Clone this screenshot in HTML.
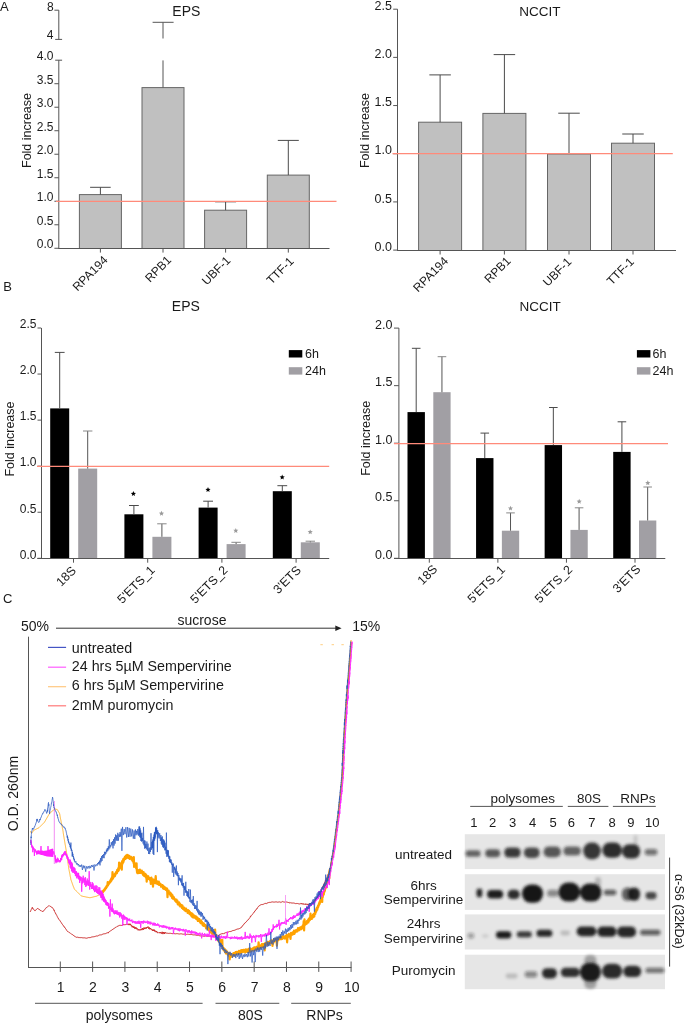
<!DOCTYPE html>
<html><head><meta charset="utf-8"><style>
html,body{margin:0;padding:0;background:#fff;width:685px;height:1023px;overflow:hidden}
svg{display:block;will-change:transform}
text{font-family:"Liberation Sans", sans-serif}
</style></head><body>
<svg width="685" height="1023" viewBox="0 0 685 1023" shape-rendering="auto">
<text x="0.00" y="11.20" font-size="13" text-anchor="start" fill="#1a1a1a" >A</text>
<text x="172.30" y="16.00" font-size="14" text-anchor="start" fill="#1a1a1a" >EPS</text>
<line x1="58.80" y1="10.20" x2="58.80" y2="39.40" stroke="#555555" stroke-width="1" />
<line x1="54.40" y1="10.20" x2="58.80" y2="10.20" stroke="#555555" stroke-width="1" />
<line x1="55.20" y1="39.40" x2="62.10" y2="39.40" stroke="#555555" stroke-width="1" />
<text x="53.60" y="10.90" font-size="12" text-anchor="end" fill="#1a1a1a" >8</text>
<text x="53.40" y="39.20" font-size="12" text-anchor="end" fill="#1a1a1a" >4</text>
<line x1="58.80" y1="60.20" x2="58.80" y2="248.50" stroke="#555555" stroke-width="1" />
<line x1="55.20" y1="60.20" x2="62.10" y2="60.20" stroke="#555555" stroke-width="1" />
<text x="53.40" y="60.40" font-size="12" text-anchor="end" fill="#1a1a1a" >4.0</text>
<line x1="54.40" y1="83.71" x2="58.80" y2="83.71" stroke="#555555" stroke-width="1" />
<text x="53.40" y="83.91" font-size="12" text-anchor="end" fill="#1a1a1a" >3.5</text>
<line x1="54.40" y1="107.22" x2="58.80" y2="107.22" stroke="#555555" stroke-width="1" />
<text x="53.40" y="107.42" font-size="12" text-anchor="end" fill="#1a1a1a" >3.0</text>
<line x1="54.40" y1="130.73" x2="58.80" y2="130.73" stroke="#555555" stroke-width="1" />
<text x="53.40" y="130.93" font-size="12" text-anchor="end" fill="#1a1a1a" >2.5</text>
<line x1="54.40" y1="154.24" x2="58.80" y2="154.24" stroke="#555555" stroke-width="1" />
<text x="53.40" y="154.44" font-size="12" text-anchor="end" fill="#1a1a1a" >2.0</text>
<line x1="54.40" y1="177.75" x2="58.80" y2="177.75" stroke="#555555" stroke-width="1" />
<text x="53.40" y="177.95" font-size="12" text-anchor="end" fill="#1a1a1a" >1.5</text>
<line x1="54.40" y1="201.26" x2="58.80" y2="201.26" stroke="#555555" stroke-width="1" />
<text x="53.40" y="201.46" font-size="12" text-anchor="end" fill="#1a1a1a" >1.0</text>
<line x1="54.40" y1="224.77" x2="58.80" y2="224.77" stroke="#555555" stroke-width="1" />
<text x="53.40" y="224.97" font-size="12" text-anchor="end" fill="#1a1a1a" >0.5</text>
<line x1="54.40" y1="248.28" x2="58.80" y2="248.28" stroke="#555555" stroke-width="1" />
<text x="53.40" y="248.48" font-size="12" text-anchor="end" fill="#1a1a1a" >0.0</text>
<rect x="79.40" y="194.60" width="42.00" height="53.90" fill="#c0c0c0" stroke="#666666" stroke-width="1"/>
<rect x="142.00" y="87.60" width="42.00" height="160.90" fill="#c0c0c0" stroke="#666666" stroke-width="1"/>
<rect x="204.60" y="210.20" width="42.00" height="38.30" fill="#c0c0c0" stroke="#666666" stroke-width="1"/>
<rect x="267.30" y="175.10" width="42.00" height="73.40" fill="#c0c0c0" stroke="#666666" stroke-width="1"/>
<line x1="100.40" y1="187.30" x2="100.40" y2="194.60" stroke="#4a4a4a" stroke-width="1" />
<line x1="90.10" y1="187.30" x2="110.70" y2="187.30" stroke="#4a4a4a" stroke-width="1" />
<line x1="163.00" y1="22.30" x2="163.00" y2="38.50" stroke="#555555" stroke-width="1" />
<line x1="152.60" y1="22.30" x2="173.60" y2="22.30" stroke="#555555" stroke-width="1" />
<line x1="163.00" y1="60.40" x2="163.00" y2="87.60" stroke="#555555" stroke-width="1" />
<line x1="225.60" y1="201.80" x2="225.60" y2="210.20" stroke="#4a4a4a" stroke-width="1" />
<line x1="215.10" y1="201.80" x2="236.10" y2="201.80" stroke="#4a4a4a" stroke-width="1" />
<line x1="288.30" y1="140.40" x2="288.30" y2="175.10" stroke="#4a4a4a" stroke-width="1" />
<line x1="277.80" y1="140.40" x2="298.80" y2="140.40" stroke="#4a4a4a" stroke-width="1" />
<line x1="58.30" y1="248.50" x2="329.50" y2="248.50" stroke="#555555" stroke-width="1" />
<line x1="100.40" y1="248.50" x2="100.40" y2="252.60" stroke="#555555" stroke-width="1" />
<line x1="163.00" y1="248.50" x2="163.00" y2="252.60" stroke="#555555" stroke-width="1" />
<line x1="225.60" y1="248.50" x2="225.60" y2="252.60" stroke="#555555" stroke-width="1" />
<line x1="288.30" y1="248.50" x2="288.30" y2="252.60" stroke="#555555" stroke-width="1" />
<line x1="56.00" y1="201.30" x2="336.50" y2="201.30" stroke="#ff8a7a" stroke-width="1.2" />
<text x="108.40" y="260.80" font-size="12" text-anchor="end" fill="#1a1a1a" transform="rotate(-45 108.40 260.80)" >RPA194</text>
<text x="172.10" y="260.80" font-size="12" text-anchor="end" fill="#1a1a1a" transform="rotate(-45 172.10 260.80)" >RPB1</text>
<text x="231.20" y="261.20" font-size="12" text-anchor="end" fill="#1a1a1a" transform="rotate(-45 231.20 261.20)" >UBF-1</text>
<text x="294.60" y="262.00" font-size="12" text-anchor="end" fill="#1a1a1a" transform="rotate(-45 294.60 262.00)" >TTF-1</text>
<text x="30.90" y="130.50" font-size="12.5" text-anchor="middle" fill="#1a1a1a" transform="rotate(-90 30.90 130.50)" >Fold increase</text>
<text x="519.30" y="15.90" font-size="13.5" text-anchor="start" fill="#1a1a1a" >NCCIT</text>
<line x1="397.50" y1="9.20" x2="397.50" y2="250.50" stroke="#555555" stroke-width="1" />
<line x1="393.20" y1="9.20" x2="397.50" y2="9.20" stroke="#555555" stroke-width="1" />
<text x="392.00" y="9.80" font-size="12.5" text-anchor="end" fill="#1a1a1a" >2.5</text>
<line x1="393.20" y1="57.38" x2="397.50" y2="57.38" stroke="#555555" stroke-width="1" />
<text x="392.00" y="57.98" font-size="12.5" text-anchor="end" fill="#1a1a1a" >2.0</text>
<line x1="393.20" y1="105.56" x2="397.50" y2="105.56" stroke="#555555" stroke-width="1" />
<text x="392.00" y="106.16" font-size="12.5" text-anchor="end" fill="#1a1a1a" >1.5</text>
<line x1="393.20" y1="153.74" x2="397.50" y2="153.74" stroke="#555555" stroke-width="1" />
<text x="392.00" y="154.34" font-size="12.5" text-anchor="end" fill="#1a1a1a" >1.0</text>
<line x1="393.20" y1="201.92" x2="397.50" y2="201.92" stroke="#555555" stroke-width="1" />
<text x="392.00" y="202.52" font-size="12.5" text-anchor="end" fill="#1a1a1a" >0.5</text>
<line x1="393.20" y1="250.10" x2="397.50" y2="250.10" stroke="#555555" stroke-width="1" />
<text x="392.00" y="250.70" font-size="12.5" text-anchor="end" fill="#1a1a1a" >0.0</text>
<rect x="418.60" y="122.20" width="43.00" height="128.30" fill="#c0c0c0" stroke="#666666" stroke-width="1"/>
<rect x="482.90" y="113.40" width="43.00" height="137.10" fill="#c0c0c0" stroke="#666666" stroke-width="1"/>
<rect x="547.50" y="154.00" width="43.00" height="96.50" fill="#c0c0c0" stroke="#666666" stroke-width="1"/>
<rect x="611.50" y="143.20" width="43.00" height="107.30" fill="#c0c0c0" stroke="#666666" stroke-width="1"/>
<line x1="440.10" y1="74.90" x2="440.10" y2="122.20" stroke="#4a4a4a" stroke-width="1" />
<line x1="429.35" y1="74.90" x2="450.85" y2="74.90" stroke="#4a4a4a" stroke-width="1" />
<line x1="504.40" y1="54.60" x2="504.40" y2="113.40" stroke="#4a4a4a" stroke-width="1" />
<line x1="493.65" y1="54.60" x2="515.15" y2="54.60" stroke="#4a4a4a" stroke-width="1" />
<line x1="569.00" y1="113.20" x2="569.00" y2="154.00" stroke="#4a4a4a" stroke-width="1" />
<line x1="558.25" y1="113.20" x2="579.75" y2="113.20" stroke="#4a4a4a" stroke-width="1" />
<line x1="633.00" y1="134.00" x2="633.00" y2="143.20" stroke="#4a4a4a" stroke-width="1" />
<line x1="622.25" y1="134.00" x2="643.75" y2="134.00" stroke="#4a4a4a" stroke-width="1" />
<line x1="397.00" y1="250.50" x2="676.00" y2="250.50" stroke="#555555" stroke-width="1" />
<line x1="440.10" y1="250.50" x2="440.10" y2="254.50" stroke="#555555" stroke-width="1" />
<line x1="504.40" y1="250.50" x2="504.40" y2="254.50" stroke="#555555" stroke-width="1" />
<line x1="569.00" y1="250.50" x2="569.00" y2="254.50" stroke="#555555" stroke-width="1" />
<line x1="633.00" y1="250.50" x2="633.00" y2="254.50" stroke="#555555" stroke-width="1" />
<line x1="392.50" y1="153.60" x2="672.80" y2="153.60" stroke="#ff8a7a" stroke-width="1.2" />
<text x="449.00" y="261.70" font-size="12" text-anchor="end" fill="#1a1a1a" transform="rotate(-45 449.00 261.70)" >RPA194</text>
<text x="511.50" y="261.70" font-size="12" text-anchor="end" fill="#1a1a1a" transform="rotate(-45 511.50 261.70)" >RPB1</text>
<text x="572.30" y="262.60" font-size="12" text-anchor="end" fill="#1a1a1a" transform="rotate(-45 572.30 262.60)" >UBF-1</text>
<text x="634.80" y="262.60" font-size="12" text-anchor="end" fill="#1a1a1a" transform="rotate(-45 634.80 262.60)" >TTF-1</text>
<text x="369.40" y="130.50" font-size="12.5" text-anchor="middle" fill="#1a1a1a" transform="rotate(-90 369.40 130.50)" >Fold increase</text>
<text x="3.20" y="291.30" font-size="13" text-anchor="start" fill="#1a1a1a" >B</text>
<text x="171.80" y="311.00" font-size="14" text-anchor="start" fill="#1a1a1a" >EPS</text>
<line x1="41.50" y1="328.00" x2="41.50" y2="558.50" stroke="#555555" stroke-width="1" />
<line x1="37.50" y1="328.00" x2="41.20" y2="328.00" stroke="#555555" stroke-width="1" />
<text x="36.40" y="328.30" font-size="12" text-anchor="end" fill="#1a1a1a" >2.5</text>
<line x1="37.50" y1="374.06" x2="41.20" y2="374.06" stroke="#555555" stroke-width="1" />
<text x="36.40" y="374.36" font-size="12" text-anchor="end" fill="#1a1a1a" >2.0</text>
<line x1="37.50" y1="420.12" x2="41.20" y2="420.12" stroke="#555555" stroke-width="1" />
<text x="36.40" y="420.42" font-size="12" text-anchor="end" fill="#1a1a1a" >1.5</text>
<line x1="37.50" y1="466.18" x2="41.20" y2="466.18" stroke="#555555" stroke-width="1" />
<text x="36.40" y="466.48" font-size="12" text-anchor="end" fill="#1a1a1a" >1.0</text>
<line x1="37.50" y1="512.24" x2="41.20" y2="512.24" stroke="#555555" stroke-width="1" />
<text x="36.40" y="512.54" font-size="12" text-anchor="end" fill="#1a1a1a" >0.5</text>
<line x1="37.50" y1="558.30" x2="41.20" y2="558.30" stroke="#555555" stroke-width="1" />
<text x="36.40" y="558.60" font-size="12" text-anchor="end" fill="#1a1a1a" >0.0</text>
<rect x="50.20" y="408.40" width="19.00" height="150.10" fill="#000000" stroke="none" stroke-width="1"/>
<rect x="78.20" y="468.60" width="19.00" height="89.90" fill="#a19fa4" stroke="none" stroke-width="1"/>
<rect x="124.40" y="514.30" width="19.00" height="44.20" fill="#000000" stroke="none" stroke-width="1"/>
<rect x="152.40" y="536.80" width="19.00" height="21.70" fill="#a19fa4" stroke="none" stroke-width="1"/>
<rect x="198.60" y="507.60" width="19.00" height="50.90" fill="#000000" stroke="none" stroke-width="1"/>
<rect x="226.60" y="544.10" width="19.00" height="14.40" fill="#a19fa4" stroke="none" stroke-width="1"/>
<rect x="272.80" y="491.20" width="19.00" height="67.30" fill="#000000" stroke="none" stroke-width="1"/>
<rect x="300.80" y="542.30" width="19.00" height="16.20" fill="#a19fa4" stroke="none" stroke-width="1"/>
<line x1="59.70" y1="352.40" x2="59.70" y2="408.40" stroke="#4a4a4a" stroke-width="1" />
<line x1="54.80" y1="352.40" x2="64.60" y2="352.40" stroke="#4a4a4a" stroke-width="1" />
<line x1="87.70" y1="431.00" x2="87.70" y2="468.60" stroke="#555" stroke-width="1" />
<line x1="83.00" y1="431.00" x2="92.40" y2="431.00" stroke="#888" stroke-width="1" />
<line x1="133.90" y1="505.50" x2="133.90" y2="514.30" stroke="#4a4a4a" stroke-width="1" />
<line x1="129.00" y1="505.50" x2="138.80" y2="505.50" stroke="#4a4a4a" stroke-width="1" />
<line x1="161.90" y1="523.80" x2="161.90" y2="536.80" stroke="#555" stroke-width="1" />
<line x1="157.20" y1="523.80" x2="166.60" y2="523.80" stroke="#888" stroke-width="1" />
<line x1="208.10" y1="501.20" x2="208.10" y2="507.60" stroke="#4a4a4a" stroke-width="1" />
<line x1="203.20" y1="501.20" x2="213.00" y2="501.20" stroke="#4a4a4a" stroke-width="1" />
<line x1="236.10" y1="542.30" x2="236.10" y2="544.10" stroke="#555" stroke-width="1" />
<line x1="231.40" y1="542.30" x2="240.80" y2="542.30" stroke="#888" stroke-width="1" />
<line x1="282.30" y1="485.70" x2="282.30" y2="491.20" stroke="#4a4a4a" stroke-width="1" />
<line x1="277.40" y1="485.70" x2="287.20" y2="485.70" stroke="#4a4a4a" stroke-width="1" />
<line x1="310.30" y1="541.20" x2="310.30" y2="542.30" stroke="#555" stroke-width="1" />
<line x1="305.60" y1="541.20" x2="315.00" y2="541.20" stroke="#888" stroke-width="1" />
<line x1="37.30" y1="558.50" x2="329.20" y2="558.50" stroke="#555555" stroke-width="1" />
<line x1="73.50" y1="558.50" x2="73.50" y2="562.70" stroke="#555555" stroke-width="1" />
<line x1="147.70" y1="558.50" x2="147.70" y2="562.70" stroke="#555555" stroke-width="1" />
<line x1="221.90" y1="558.50" x2="221.90" y2="562.70" stroke="#555555" stroke-width="1" />
<line x1="296.10" y1="558.50" x2="296.10" y2="562.70" stroke="#555555" stroke-width="1" />
<line x1="37.00" y1="466.40" x2="329.20" y2="466.40" stroke="#ff8a7a" stroke-width="1.2" />
<polygon points="133.40,491.10 134.11,492.82 135.97,492.97 134.56,494.18 134.99,495.98 133.40,495.01 131.81,495.98 132.24,494.18 130.83,492.97 132.69,492.82" fill="#000000"/>
<polygon points="161.50,510.80 162.21,512.52 164.07,512.67 162.66,513.88 163.09,515.68 161.50,514.72 159.91,515.68 160.34,513.88 158.93,512.67 160.79,512.52" fill="#9a9a9a"/>
<polygon points="208.00,487.10 208.71,488.82 210.57,488.97 209.16,490.18 209.59,491.98 208.00,491.01 206.41,491.98 206.84,490.18 205.43,488.97 207.29,488.82" fill="#000000"/>
<polygon points="235.80,528.00 236.51,529.72 238.37,529.87 236.96,531.08 237.39,532.88 235.80,531.91 234.21,532.88 234.64,531.08 233.23,529.87 235.09,529.72" fill="#9a9a9a"/>
<polygon points="282.20,474.60 282.91,476.32 284.77,476.47 283.36,477.68 283.79,479.48 282.20,478.51 280.61,479.48 281.04,477.68 279.63,476.47 281.49,476.32" fill="#000000"/>
<polygon points="310.20,529.40 310.91,531.12 312.77,531.27 311.36,532.48 311.79,534.28 310.20,533.31 308.61,534.28 309.04,532.48 307.63,531.27 309.49,531.12" fill="#9a9a9a"/>
<text x="76.80" y="571.30" font-size="12.4" text-anchor="end" fill="#1a1a1a" transform="rotate(-45 76.80 571.30)" >18S</text>
<text x="155.60" y="570.80" font-size="12.4" text-anchor="end" fill="#1a1a1a" transform="rotate(-45 155.60 570.80)" >5'ETS_1</text>
<text x="228.50" y="570.80" font-size="12.4" text-anchor="end" fill="#1a1a1a" transform="rotate(-45 228.50 570.80)" >5'ETS_2</text>
<text x="301.80" y="570.80" font-size="12.4" text-anchor="end" fill="#1a1a1a" transform="rotate(-45 301.80 570.80)" >3'ETS</text>
<text x="13.80" y="439.00" font-size="12.5" text-anchor="middle" fill="#1a1a1a" transform="rotate(-90 13.80 439.00)" >Fold increase</text>
<rect x="288.80" y="350.10" width="13.50" height="7.40" fill="#000000" stroke="none" stroke-width="1"/>
<rect x="288.80" y="367.20" width="13.50" height="7.40" fill="#a19fa4" stroke="none" stroke-width="1"/>
<text x="305.00" y="357.60" font-size="12.5" text-anchor="start" fill="#1a1a1a" >6h</text>
<text x="305.00" y="374.80" font-size="12.5" text-anchor="start" fill="#1a1a1a" >24h</text>
<text x="519.60" y="311.10" font-size="13.5" text-anchor="start" fill="#1a1a1a" >NCCIT</text>
<line x1="398.90" y1="328.10" x2="398.90" y2="558.50" stroke="#555555" stroke-width="1" />
<line x1="394.00" y1="328.10" x2="398.90" y2="328.10" stroke="#555555" stroke-width="1" />
<text x="392.40" y="328.50" font-size="12.5" text-anchor="end" fill="#1a1a1a" >2.0</text>
<line x1="394.00" y1="385.65" x2="398.90" y2="385.65" stroke="#555555" stroke-width="1" />
<text x="392.40" y="386.05" font-size="12.5" text-anchor="end" fill="#1a1a1a" >1.5</text>
<line x1="394.00" y1="443.20" x2="398.90" y2="443.20" stroke="#555555" stroke-width="1" />
<text x="392.40" y="443.60" font-size="12.5" text-anchor="end" fill="#1a1a1a" >1.0</text>
<line x1="394.00" y1="500.75" x2="398.90" y2="500.75" stroke="#555555" stroke-width="1" />
<text x="392.40" y="501.15" font-size="12.5" text-anchor="end" fill="#1a1a1a" >0.5</text>
<line x1="394.00" y1="558.30" x2="398.90" y2="558.30" stroke="#555555" stroke-width="1" />
<text x="392.40" y="558.70" font-size="12.5" text-anchor="end" fill="#1a1a1a" >0.0</text>
<rect x="407.50" y="412.10" width="17.40" height="146.40" fill="#000000" stroke="none" stroke-width="1"/>
<rect x="433.30" y="392.20" width="17.30" height="166.30" fill="#a19fa4" stroke="none" stroke-width="1"/>
<rect x="476.07" y="458.10" width="17.40" height="100.40" fill="#000000" stroke="none" stroke-width="1"/>
<rect x="501.87" y="530.70" width="17.30" height="27.80" fill="#a19fa4" stroke="none" stroke-width="1"/>
<rect x="544.64" y="445.10" width="17.40" height="113.40" fill="#000000" stroke="none" stroke-width="1"/>
<rect x="570.44" y="529.90" width="17.30" height="28.60" fill="#a19fa4" stroke="none" stroke-width="1"/>
<rect x="613.21" y="451.90" width="17.40" height="106.60" fill="#000000" stroke="none" stroke-width="1"/>
<rect x="639.01" y="520.50" width="17.30" height="38.00" fill="#a19fa4" stroke="none" stroke-width="1"/>
<line x1="416.20" y1="348.30" x2="416.20" y2="412.10" stroke="#4a4a4a" stroke-width="1" />
<line x1="411.90" y1="348.30" x2="420.50" y2="348.30" stroke="#4a4a4a" stroke-width="1" />
<line x1="441.95" y1="356.70" x2="441.95" y2="392.20" stroke="#555" stroke-width="1" />
<line x1="437.65" y1="356.70" x2="446.25" y2="356.70" stroke="#888" stroke-width="1" />
<line x1="484.77" y1="433.10" x2="484.77" y2="458.10" stroke="#4a4a4a" stroke-width="1" />
<line x1="480.47" y1="433.10" x2="489.07" y2="433.10" stroke="#4a4a4a" stroke-width="1" />
<line x1="510.52" y1="512.90" x2="510.52" y2="530.70" stroke="#555" stroke-width="1" />
<line x1="506.22" y1="512.90" x2="514.82" y2="512.90" stroke="#888" stroke-width="1" />
<line x1="553.34" y1="407.50" x2="553.34" y2="445.10" stroke="#4a4a4a" stroke-width="1" />
<line x1="549.04" y1="407.50" x2="557.64" y2="407.50" stroke="#4a4a4a" stroke-width="1" />
<line x1="579.09" y1="507.80" x2="579.09" y2="529.90" stroke="#555" stroke-width="1" />
<line x1="574.79" y1="507.80" x2="583.39" y2="507.80" stroke="#888" stroke-width="1" />
<line x1="621.91" y1="421.80" x2="621.91" y2="451.90" stroke="#4a4a4a" stroke-width="1" />
<line x1="617.61" y1="421.80" x2="626.21" y2="421.80" stroke="#4a4a4a" stroke-width="1" />
<line x1="647.66" y1="487.00" x2="647.66" y2="520.50" stroke="#555" stroke-width="1" />
<line x1="643.36" y1="487.00" x2="651.96" y2="487.00" stroke="#888" stroke-width="1" />
<line x1="394.00" y1="558.50" x2="665.30" y2="558.50" stroke="#555555" stroke-width="1" />
<line x1="429.30" y1="558.50" x2="429.30" y2="562.70" stroke="#555555" stroke-width="1" />
<line x1="497.87" y1="558.50" x2="497.87" y2="562.70" stroke="#555555" stroke-width="1" />
<line x1="566.44" y1="558.50" x2="566.44" y2="562.70" stroke="#555555" stroke-width="1" />
<line x1="635.01" y1="558.50" x2="635.01" y2="562.70" stroke="#555555" stroke-width="1" />
<line x1="393.90" y1="443.70" x2="668.00" y2="443.70" stroke="#ff8a7a" stroke-width="1.2" />
<polygon points="510.50,505.70 511.21,507.42 513.07,507.57 511.66,508.78 512.09,510.58 510.50,509.61 508.91,510.58 509.34,508.78 507.93,507.57 509.79,507.42" fill="#9a9a9a"/>
<polygon points="579.20,498.80 579.91,500.52 581.77,500.67 580.36,501.88 580.79,503.68 579.20,502.71 577.61,503.68 578.04,501.88 576.63,500.67 578.49,500.52" fill="#9a9a9a"/>
<polygon points="647.80,480.30 648.51,482.02 650.37,482.17 648.96,483.38 649.39,485.18 647.80,484.21 646.21,485.18 646.64,483.38 645.23,482.17 647.09,482.02" fill="#9a9a9a"/>
<text x="438.20" y="569.90" font-size="12.4" text-anchor="end" fill="#1a1a1a" transform="rotate(-45 438.20 569.90)" >18S</text>
<text x="505.77" y="570.30" font-size="12.4" text-anchor="end" fill="#1a1a1a" transform="rotate(-45 505.77 570.30)" >5'ETS_1</text>
<text x="573.04" y="570.30" font-size="12.4" text-anchor="end" fill="#1a1a1a" transform="rotate(-45 573.04 570.30)" >5'ETS_2</text>
<text x="641.31" y="569.90" font-size="12.4" text-anchor="end" fill="#1a1a1a" transform="rotate(-45 641.31 569.90)" >3'ETS</text>
<text x="370.20" y="438.30" font-size="12.5" text-anchor="middle" fill="#1a1a1a" transform="rotate(-90 370.20 438.30)" >Fold increase</text>
<rect x="636.90" y="350.10" width="13.50" height="7.40" fill="#000000" stroke="none" stroke-width="1"/>
<rect x="636.90" y="367.20" width="13.50" height="7.40" fill="#a19fa4" stroke="none" stroke-width="1"/>
<text x="652.50" y="357.60" font-size="12.5" text-anchor="start" fill="#1a1a1a" >6h</text>
<text x="652.50" y="374.80" font-size="12.5" text-anchor="start" fill="#1a1a1a" >24h</text>
<text x="3.00" y="603.20" font-size="13" text-anchor="start" fill="#1a1a1a" >C</text>
<text x="21.00" y="631.00" font-size="14" text-anchor="start" fill="#1a1a1a" >50%</text>
<line x1="56.00" y1="628.20" x2="336.00" y2="628.20" stroke="#333" stroke-width="1" />
<polygon points="335.3,625.4 341.6,628.2 335.3,631.0" fill="#222"/>
<text x="177.40" y="625.30" font-size="14" text-anchor="start" fill="#1a1a1a" >sucrose</text>
<text x="352.30" y="631.30" font-size="14" text-anchor="start" fill="#1a1a1a" >15%</text>
<line x1="28.50" y1="636.70" x2="28.50" y2="968.00" stroke="#555555" stroke-width="1" />
<line x1="28.00" y1="967.50" x2="351.40" y2="967.50" stroke="#555555" stroke-width="1" />
<line x1="60.30" y1="961.50" x2="60.30" y2="971.90" stroke="#555555" stroke-width="1" />
<text x="60.70" y="991.80" font-size="14" text-anchor="middle" fill="#1a1a1a" >1</text>
<line x1="92.61" y1="961.50" x2="92.61" y2="971.90" stroke="#555555" stroke-width="1" />
<text x="93.01" y="991.80" font-size="14" text-anchor="middle" fill="#1a1a1a" >2</text>
<line x1="124.92" y1="961.50" x2="124.92" y2="971.90" stroke="#555555" stroke-width="1" />
<text x="125.32" y="991.80" font-size="14" text-anchor="middle" fill="#1a1a1a" >3</text>
<line x1="157.23" y1="961.50" x2="157.23" y2="971.90" stroke="#555555" stroke-width="1" />
<text x="157.63" y="991.80" font-size="14" text-anchor="middle" fill="#1a1a1a" >4</text>
<line x1="189.54" y1="961.50" x2="189.54" y2="971.90" stroke="#555555" stroke-width="1" />
<text x="189.94" y="991.80" font-size="14" text-anchor="middle" fill="#1a1a1a" >5</text>
<line x1="221.85" y1="961.50" x2="221.85" y2="971.90" stroke="#555555" stroke-width="1" />
<text x="222.25" y="991.80" font-size="14" text-anchor="middle" fill="#1a1a1a" >6</text>
<line x1="254.16" y1="961.50" x2="254.16" y2="971.90" stroke="#555555" stroke-width="1" />
<text x="254.56" y="991.80" font-size="14" text-anchor="middle" fill="#1a1a1a" >7</text>
<line x1="286.47" y1="961.50" x2="286.47" y2="971.90" stroke="#555555" stroke-width="1" />
<text x="286.87" y="991.80" font-size="14" text-anchor="middle" fill="#1a1a1a" >8</text>
<line x1="318.78" y1="961.50" x2="318.78" y2="971.90" stroke="#555555" stroke-width="1" />
<text x="319.18" y="991.80" font-size="14" text-anchor="middle" fill="#1a1a1a" >9</text>
<line x1="351.09" y1="961.50" x2="351.09" y2="971.90" stroke="#555555" stroke-width="1" />
<text x="351.69" y="991.80" font-size="14" text-anchor="middle" fill="#1a1a1a" >10</text>
<line x1="35.00" y1="1003.30" x2="202.60" y2="1003.30" stroke="#555" stroke-width="1" />
<line x1="215.50" y1="1003.30" x2="279.30" y2="1003.30" stroke="#555" stroke-width="1" />
<line x1="291.20" y1="1003.30" x2="350.80" y2="1003.30" stroke="#555" stroke-width="1" />
<text x="119.20" y="1019.80" font-size="14" text-anchor="middle" fill="#1a1a1a" >polysomes</text>
<text x="250.50" y="1019.80" font-size="14" text-anchor="middle" fill="#1a1a1a" >80S</text>
<text x="324.60" y="1019.80" font-size="14" text-anchor="middle" fill="#1a1a1a" >RNPs</text>
<text x="17.70" y="793.60" font-size="14" text-anchor="middle" fill="#1a1a1a" transform="rotate(-90 17.70 793.60)" >O.D. 260nm</text>
<line x1="48.00" y1="647.40" x2="66.10" y2="647.40" stroke="#4455c4" stroke-width="1.2" />
<text x="71.80" y="652.50" font-size="14.3" text-anchor="start" fill="#1a1a1a" >untreated</text>
<line x1="48.00" y1="667.20" x2="66.10" y2="667.20" stroke="#ff5cff" stroke-width="1.2" />
<text x="71.80" y="670.90" font-size="14.3" text-anchor="start" fill="#1a1a1a" >24 hrs 5µM Sempervirine</text>
<line x1="48.00" y1="686.70" x2="66.10" y2="686.70" stroke="#ffc880" stroke-width="1.2" />
<text x="71.80" y="690.40" font-size="14.3" text-anchor="start" fill="#1a1a1a" >6 hrs 5µM Sempervirine</text>
<line x1="48.00" y1="705.80" x2="66.10" y2="705.80" stroke="#ff7878" stroke-width="1.2" />
<text x="71.80" y="709.70" font-size="14.3" text-anchor="start" fill="#1a1a1a" >2mM puromycin</text>
<polyline points="30.2,911.9 30.5,911.0 30.8,910.6 31.1,909.7 31.4,909.4 31.7,908.5 32.0,908.2 32.3,907.3 32.7,908.7 33.1,908.5 33.5,909.3 34.0,909.6 34.4,910.4 34.8,910.7 35.2,910.7 35.7,910.0 36.2,909.7 36.7,909.0 37.2,908.7 37.7,908.3 38.3,909.0 38.9,909.1 39.4,909.7 40.0,909.8 40.6,910.6 41.2,910.6 41.8,911.3 42.4,911.4 42.9,911.7 43.4,910.9 43.8,910.7 44.3,910.0 44.7,909.7 45.2,908.8 45.6,908.6 46.1,907.7 46.6,907.5 47.2,906.9 47.7,906.7 48.3,906.1 48.8,905.9 49.5,905.8 50.1,906.4 50.7,906.5 51.3,907.1 52.0,907.1 52.5,907.7 52.8,908.1 53.2,908.9 53.5,909.3 53.8,910.2 54.2,910.0 54.5,911.4 54.8,911.8 55.2,912.6 55.5,913.1 55.8,914.0 56.1,914.2 56.5,915.2 56.8,915.5 57.1,916.3 57.5,916.8 57.8,917.6 58.1,917.9 58.5,918.9 58.9,919.2 59.3,919.9 59.7,920.3 60.1,921.2 60.5,921.4 60.9,922.2 61.3,922.6 61.7,923.5 62.1,923.7 62.5,924.6 62.9,924.9 63.3,925.7 63.7,925.9 64.1,926.9 64.6,927.1 65.0,928.0 65.4,928.3 65.8,929.1 66.2,929.5 66.6,930.3 67.0,930.6 67.5,931.4 68.0,931.5 68.6,932.1 69.2,932.3 69.7,933.0 70.3,933.1 70.9,933.7 71.5,934.0 72.0,934.5 72.6,934.7 73.2,935.3 73.8,935.5 74.3,936.1 74.9,936.3 75.5,937.0 76.1,937.1 76.8,937.4 77.5,937.2 78.2,937.6 78.9,937.3 79.6,937.6 80.2,937.5 80.9,937.8 81.6,937.6 82.3,937.8 83.0,937.7 83.7,937.9 84.4,937.8 85.1,938.1 85.8,938.0 86.5,938.2 87.2,937.9 87.9,938.0 88.6,937.6 89.3,937.7 90.0,937.3 90.7,937.5 91.3,937.1 92.0,937.2 92.7,936.8 93.4,936.8 94.1,936.6 94.8,936.6 95.5,936.3 96.1,936.3 96.8,935.8 97.5,936.0 98.2,935.4 98.8,935.6 99.5,935.0 100.2,935.2 100.8,934.6 101.5,934.8 102.2,934.3 102.9,934.3 103.5,933.9 104.2,933.9 104.9,933.6 105.6,933.6 106.2,933.1 106.9,933.2 107.6,932.7 108.2,933.1 108.7,932.1 109.3,931.9 109.9,931.2 110.5,931.0 111.1,930.4 111.6,930.2 112.2,929.6 112.8,929.5 113.4,928.9 114.0,928.7 114.5,928.0 115.1,927.9 115.7,927.2 116.3,927.2 116.9,926.5 117.4,926.4 118.0,925.8 118.7,925.8 119.4,925.4 120.1,925.6 120.8,925.2 121.5,925.4 122.2,925.0 122.8,925.2 123.5,924.2 124.2,924.9 124.9,924.6 125.6,924.6 126.3,924.3 127.0,924.6 127.7,924.2 128.4,925.1 129.0,923.6 129.7,925.1 130.3,923.8 130.9,925.6 131.5,925.1 132.1,927.2 132.7,925.9 133.3,927.8 133.9,926.3 134.5,928.5 135.1,927.0 135.7,928.8 136.3,927.6 136.9,929.3 137.5,928.6 138.1,930.3 138.7,929.3 139.3,930.4 140.0,929.2 140.7,930.3 141.3,928.7 142.0,930.1 142.7,928.1 143.3,929.8 144.0,927.5 144.7,929.1 145.3,927.5 146.0,928.9 146.7,927.1 147.3,927.8 148.0,926.5 148.6,928.7 149.2,927.3 149.9,929.4 150.5,928.1 151.1,929.5 151.7,929.1 152.4,930.8 153.0,929.4 153.6,930.9 154.2,929.6 154.9,931.6 155.5,930.7 156.1,932.2 156.7,931.1 157.4,932.9 158.0,932.3 158.7,933.1 159.4,932.3 160.1,933.3 160.8,932.1 161.5,933.6 162.2,931.8 162.9,934.1 163.6,932.0 164.3,934.0 165.0,932.0 165.7,933.3 166.4,933.1 167.1,933.3 167.8,933.2 168.5,933.4 169.2,933.2 169.9,933.5 170.6,933.3 171.3,933.5 172.0,933.4 172.7,933.7 173.4,933.4 174.1,933.8 174.8,933.6 175.5,933.8 176.2,933.6 176.9,933.8 177.6,933.7 178.3,933.9 178.9,933.8 179.6,934.0 180.3,933.8 181.0,934.1 181.7,933.8 182.4,934.1 183.1,934.0 183.8,934.3 184.5,934.1 185.2,934.3 185.9,934.0 186.6,934.4 187.3,934.2 188.0,934.4 188.7,934.3 189.4,934.5 190.1,934.3 190.8,934.6 191.5,934.5 192.2,934.8 192.9,934.6 193.6,934.9 194.3,934.8 195.0,935.1 195.7,935.0 196.4,935.3 197.1,935.2 197.8,935.4 198.5,935.3 199.2,935.8 199.9,935.5 200.6,935.9 201.2,935.7 201.9,936.0 202.6,936.0 203.3,936.2 204.0,936.0 204.7,936.3 205.4,936.0 206.1,936.3 206.8,936.0 207.5,936.3 208.2,936.1 208.9,936.3 209.6,936.1 210.3,936.3 211.0,936.1 211.7,936.3 212.4,936.1 213.1,936.4 213.8,936.1 214.5,936.4 215.2,936.1 215.9,936.3 216.6,936.1 217.3,936.8 217.9,935.9 218.5,935.7 219.1,934.9 219.7,934.9 220.2,934.2 220.9,934.1 221.5,933.8 222.2,933.8 222.9,933.4 223.6,934.1 224.2,933.1 224.9,933.1 225.6,932.7 226.3,932.7 226.9,932.3 227.6,932.3 228.3,932.0 229.0,931.9 229.6,931.5 230.3,931.6 231.0,931.2 231.7,931.2 232.3,930.7 233.0,930.8 233.7,930.4 234.3,930.4 235.0,929.8 235.7,929.8 236.3,929.4 237.0,929.4 237.6,929.0 238.3,929.0 239.0,928.5 239.6,928.5 240.3,928.1 240.9,928.0 241.4,927.2 241.8,926.9 242.2,926.1 242.7,925.9 243.1,925.1 243.5,924.7 243.9,923.9 244.4,923.7 244.9,922.9 245.4,922.7 245.9,922.0 246.4,921.7 246.8,921.0 247.3,920.7 247.8,919.9 248.3,919.7 248.8,918.9 249.2,918.6 249.7,917.8 250.1,917.5 250.5,916.1 251.0,916.4 251.4,915.6 251.8,915.2 252.2,914.5 252.7,914.2 253.1,913.4 253.5,913.0 254.0,912.2 254.4,912.0 254.8,911.1 255.2,910.8 255.7,910.0 256.1,909.8 256.5,908.9 257.0,908.9 257.4,907.8 257.8,907.5 258.2,906.7 258.7,906.4 259.1,905.7 259.7,905.5 260.3,905.0 261.0,905.0 261.6,904.5 262.3,904.6 263.0,904.1 263.6,904.2 264.3,903.6 264.9,904.0 265.6,903.3 266.3,903.7 267.0,902.8 267.7,903.0 268.4,902.6 269.0,902.7 269.7,902.3 270.4,902.4 271.1,902.0 271.8,902.1 272.5,901.9 273.2,902.2 273.9,901.9 274.6,902.1 275.3,901.9 276.0,902.1 276.7,901.9 277.4,902.2 278.1,901.8 278.8,902.2 279.5,901.9 280.2,902.5 280.9,901.9 281.6,902.1 282.3,901.5 283.0,902.1 283.7,901.9 284.4,902.1 285.1,901.9 285.8,902.1 286.5,902.0 287.2,902.3 287.9,902.2 288.5,902.5 289.2,902.3 289.9,903.3 290.6,902.6 291.3,903.0 292.0,902.8 292.7,903.1 293.4,903.0 294.1,903.3 294.8,903.2 295.5,903.6 296.2,903.4 296.9,903.7 297.6,903.5 298.3,903.8 299.0,903.6 299.7,904.0 300.4,903.5 301.1,904.2 301.8,903.2 302.4,904.3 303.1,903.4 303.8,904.5 304.5,903.8 305.2,904.8 305.9,903.6 306.6,904.6 307.3,904.1 308.0,905.1 308.7,903.9 309.4,904.5 310.0,903.2 310.7,904.1 311.4,902.9 312.0,904.1 312.7,902.4 313.2,903.3 313.6,901.5 314.0,902.2 314.4,900.6 314.8,901.0 315.2,899.1 315.6,900.0 316.0,897.9 316.4,898.8 316.8,897.3 317.2,897.4 317.6,895.9 318.0,897.9 318.4,894.8 318.8,895.0 319.3,893.9 319.7,893.9 320.0,892.2 320.3,892.5 320.6,891.3 320.9,893.8 321.2,889.9 321.5,890.2 321.8,888.4 322.1,888.8 322.4,887.3 322.7,887.9 323.0,885.8 323.3,886.6 323.6,885.0 323.9,885.3 324.1,883.4 324.4,883.8 324.7,882.5 325.0,882.4 325.3,880.8 325.6,881.1 325.9,879.8 326.2,881.1 326.4,878.3 326.7,878.7 327.0,877.4 327.2,877.4 327.5,875.9 327.7,876.3 328.0,874.6 328.3,875.0 328.5,873.2 328.8,873.8 329.0,871.8 329.3,872.2 329.6,870.6 329.8,870.9 330.0,869.6 330.2,869.2 330.3,868.3 330.4,867.9 330.6,866.9 330.7,866.9 330.8,865.5 331.0,865.1 331.1,864.1 331.2,863.7 331.3,862.8 331.5,862.4 331.6,861.5 331.7,860.9 331.9,860.0 332.0,859.7 332.1,858.6 332.3,858.2 332.4,857.2 332.5,856.9 332.7,855.8 332.8,855.5 332.9,854.5 333.0,854.1 333.2,853.1 333.3,852.8 333.4,851.8 333.6,851.3 333.7,850.5 333.8,850.0 333.9,849.0 334.0,848.5 334.1,847.6 334.2,847.2 334.3,846.2 334.4,845.8 334.5,844.9 334.6,844.4 334.6,843.5 334.7,843.0 334.8,842.1 334.9,841.6 335.0,840.6 335.1,840.2 335.2,839.4 335.3,838.9 335.4,837.9 335.5,837.5 335.6,836.6 335.7,836.1 335.8,835.1 335.8,834.7 335.9,833.7 336.0,833.4 336.1,832.4 336.2,832.0 336.3,831.0 336.4,830.6 336.5,829.6 336.6,829.1 336.7,828.2 336.8,827.8 336.9,826.7 336.9,826.4 337.0,825.3 337.1,825.0 337.2,824.0 337.3,823.6 337.4,822.7 337.5,822.3 337.6,821.3 337.7,820.8 337.8,819.9 337.9,819.5 338.0,818.5 338.0,818.1 338.1,817.1 338.2,816.6 338.3,815.4 338.4,815.2 338.5,814.4 338.6,813.9 338.7,812.9 338.8,812.4 338.8,811.6 338.9,811.1 339.0,810.2 339.1,809.7 339.1,808.4 339.2,808.3 339.3,807.3 339.3,807.0 339.4,805.9 339.5,805.6 339.6,804.6 339.6,804.1 339.7,803.2 339.8,802.7 339.8,801.8 339.9,801.4 340.0,800.4 340.1,799.9 340.1,799.0 340.2,798.6 340.3,797.7 340.3,797.1 340.4,796.2 340.5,795.8 340.6,794.8 340.6,794.3 340.7,793.4 340.8,793.0 340.8,792.0 340.9,791.6 341.0,790.6 341.1,790.1 341.1,789.2 341.2,788.7 341.3,787.8 341.3,787.4 341.4,786.4 341.5,786.0 341.6,785.1 341.6,784.6 341.7,783.7 341.8,783.2 341.8,782.3 341.9,781.9 342.0,780.8 342.1,780.5 342.1,779.5 342.2,779.0 342.3,778.2 342.3,777.6 342.4,776.7 342.4,776.2 342.5,775.3 342.5,774.9 342.5,774.0 342.6,773.5 342.6,772.5 342.6,772.1 342.7,771.2 342.7,770.7 342.7,769.3 342.8,769.2 342.8,768.3 342.8,768.4 342.9,766.9 342.9,766.4 342.9,765.5 343.0,765.0 343.0,764.1 343.0,763.6 343.1,762.7 343.1,762.3 343.1,761.3 343.1,760.9 343.2,759.9 343.2,759.5 343.2,758.5 343.3,758.1 343.3,757.1 343.3,756.7 343.4,755.8 343.4,755.3 343.4,754.3 343.5,753.9 343.5,753.0 343.5,752.4 343.6,751.5 343.6,751.1 343.6,750.1 343.7,749.6 343.7,748.7 343.7,748.3 343.8,747.4 343.8,746.9 343.8,745.9 343.9,745.5 343.9,744.2 343.9,744.1 344.0,743.1 344.0,743.0 344.0,741.8 344.0,741.2 344.1,740.3 344.1,739.9 344.2,739.0 344.2,738.5 344.3,737.6 344.3,737.1 344.3,736.2 344.4,735.7 344.4,734.8 344.5,734.2 344.5,733.4 344.6,733.0 344.6,731.9 344.7,731.5 344.7,730.5 344.8,730.2 344.8,729.2 344.8,728.7 344.9,727.2 344.9,727.2 345.0,726.4 345.0,725.9 345.1,724.9 345.1,724.5 345.2,723.5 345.2,723.2 345.2,722.2 345.3,721.7 345.3,720.8 345.4,720.3 345.4,719.4 345.5,718.9 345.5,718.0 345.6,717.5 345.6,716.6 345.7,716.1 345.7,715.1 345.7,714.7 345.8,713.8 345.8,713.4 345.9,712.4 345.9,712.6 346.0,710.9 346.0,710.6 346.1,709.5 346.1,709.1 346.2,708.2 346.2,707.8 346.2,706.9 346.3,706.4 346.3,705.4 346.4,705.0 346.4,704.0 346.5,703.6 346.5,702.6 346.6,702.1 346.6,701.1 346.7,700.7 346.8,699.9 346.8,699.4 346.9,698.4 346.9,697.9 347.0,697.0 347.0,696.5 347.1,695.6 347.2,695.2 347.2,694.3 347.3,693.7 347.3,692.9 347.4,692.5 347.5,691.4 347.5,691.0 347.6,690.0 347.6,689.6 347.7,688.7 347.7,688.2 347.8,687.2 347.9,686.9 347.9,685.9 348.0,685.4 348.0,684.4 348.1,684.0 348.2,683.1 348.2,682.6 348.3,681.6 348.3,681.3 348.4,680.3 348.4,679.9 348.5,678.9 348.6,678.4 348.6,677.4 348.7,677.1 348.7,676.0 348.8,675.6 348.8,674.7 348.9,674.3 348.9,673.2 349.0,672.8 349.0,672.0 349.1,671.5 349.1,670.4 349.2,670.1 349.2,669.2 349.3,668.7 349.3,667.7 349.4,667.3 349.5,666.4 349.5,665.9 349.6,664.9 349.6,664.4 349.7,663.5 349.7,663.0 349.8,662.2 349.8,661.6 349.9,660.7 349.9,660.3 350.0,659.4 350.0,658.9 350.1,658.0 350.1,657.5 350.2,656.5 350.3,656.0 350.3,655.1 350.4,654.7 350.4,653.7 350.5,653.3 350.5,652.3 350.6,651.9 350.6,650.9 350.7,650.5 350.7,649.6 350.8,649.1 350.8,648.2 350.9,647.6 350.9,646.8 351.0,646.9 351.0,645.4 351.1,644.9 351.1,643.9 351.2,644.2 351.2,642.5 351.3,642.1" fill="none" stroke="#c82424" stroke-width="0.95" stroke-linejoin="round" opacity="1.0"/>
<polygon points="36,851.3 42,851 47,850.5 52.5,848.5 53.3,849 53.3,857 47,856.5 42,855 36,853.5" fill="#ff22ff"/>
<polyline points="30.3,831.2 30.6,831.7 30.9,832.2 31.2,832.7 31.6,833.2 31.9,832.9 32.3,832.4 32.6,831.9 33.0,831.4 33.3,830.9 33.7,830.4 34.2,830.1 34.7,829.8 35.2,829.6 35.8,829.3 36.3,829.0 36.9,828.8 37.4,828.5 37.9,828.2 38.5,828.0 39.0,827.7 39.4,827.3 39.9,826.8 40.3,826.4 40.7,826.0 41.1,825.6 41.6,825.1 42.0,824.7 42.4,824.3 42.8,823.9 43.2,823.5 43.7,823.0 44.1,822.6 44.5,822.1 44.8,821.6 45.1,821.1 45.4,820.6 45.7,820.1 46.0,819.5 46.3,819.0 46.6,818.5 46.9,818.0 47.2,817.5 47.5,817.0 47.8,816.4 48.1,815.9 48.4,815.4 48.7,814.9 49.0,814.4 49.3,813.9 49.7,813.4 50.2,813.0 50.6,812.6 51.1,812.2 51.5,811.8 51.9,811.4 52.4,811.0 52.8,810.6 53.3,810.2 53.7,809.8 54.2,809.4 54.6,809.0 55.1,808.9 55.7,809.1 56.3,809.3 56.8,809.5 57.4,809.7 57.7,810.2 58.0,810.8 58.3,811.3 58.6,811.8 58.9,812.3 59.2,812.8 59.5,813.4 59.7,813.9 59.8,814.5 59.9,815.1 60.0,815.7 60.1,816.3 60.2,816.9 60.3,817.5 60.4,818.1 60.5,818.7 60.6,819.2 60.8,819.8 60.9,820.4 61.0,821.0 61.1,821.6 61.2,822.2 61.3,822.8 61.5,823.4 61.6,824.0 61.7,824.5 61.8,825.1 61.9,825.7 62.1,826.3 62.2,826.9 62.3,827.5 62.4,828.1 62.5,828.7 62.7,829.2 62.8,829.8 62.9,830.4 63.0,831.0 63.1,831.6 63.2,832.2 63.2,832.8 63.3,833.4 63.4,834.0 63.5,834.6 63.6,835.2 63.7,835.8 63.8,836.4 63.9,837.0 64.0,837.5 64.1,838.1 64.2,838.7 64.3,839.3 64.4,839.9 64.5,840.5 64.6,841.1 64.7,841.7 64.8,842.3 64.9,842.9 65.0,843.5 65.1,844.1 65.2,844.7 65.3,845.2 65.4,845.8 65.5,846.4 65.6,847.0 65.7,847.6 65.8,848.2 65.9,848.8 66.0,849.4 66.1,850.0 66.2,850.6 66.3,851.2 66.4,851.8 66.5,852.4 66.6,852.9 66.7,853.5 66.8,854.1 66.8,854.7 66.9,855.3 67.0,855.9 67.1,856.5 67.2,857.1 67.3,857.7 67.3,858.3 67.4,858.9 67.5,859.5 67.6,860.1 67.7,860.7 67.8,861.3 67.8,861.9 67.9,862.5 68.0,863.1 68.1,863.6 68.2,864.2 68.2,864.8 68.3,865.4 68.4,866.0 68.5,866.6 68.6,867.2 68.7,867.8 68.7,868.4 68.8,869.0 69.0,869.6 69.1,870.2 69.2,870.8 69.3,871.4 69.4,871.9 69.5,872.5 69.6,873.1 69.8,873.7 69.9,874.3 70.0,874.9 70.1,875.5 70.2,876.1 70.3,876.7 70.5,877.2 70.6,877.8 70.7,878.4 70.8,879.0 70.9,879.6 71.1,880.2 71.3,880.7 71.5,881.3 71.7,881.9 71.9,882.4 72.1,883.0 72.3,883.6 72.5,884.1 72.7,884.7 72.9,885.3 73.1,885.8 73.3,886.4 73.5,887.0 73.8,887.5 74.0,888.1 74.2,888.6 74.5,889.2 74.9,889.6 75.3,890.0 75.7,890.4 76.2,890.9 76.6,891.3 77.0,891.7 77.4,892.1 77.9,892.6 78.3,893.0 78.7,893.4 79.1,893.8 79.6,894.3 80.0,894.7 80.4,895.1 80.8,895.5 81.2,895.9 81.8,896.1 82.4,896.2 83.0,896.4 83.6,896.5 84.2,896.6 84.8,896.7 85.3,896.8 85.9,897.0 86.5,897.1 87.1,897.2 87.7,897.3 88.3,897.4 88.9,897.6 89.5,897.7 90.0,897.8 90.6,897.6 91.2,897.5 91.8,897.3 92.4,897.2 93.0,897.0 93.5,896.9 94.1,896.8 94.7,896.6 95.3,896.5 95.9,896.3 96.5,896.2 97.0,896.0 97.5,895.7 98.0,895.4 98.6,895.1 99.1,894.7 99.6,894.4 100.1,893.6 100.6,896.3 101.1,892.8 101.6,893.5 102.1,892.2" fill="none" stroke="#ffa200" stroke-width="0.8" stroke-linejoin="round" opacity="1.0"/>
<polyline points="102.1,892.2 102.5,892.8 102.8,891.0 103.2,891.7 103.5,890.4 103.9,890.9 104.2,889.5 104.6,890.2 104.9,888.5 105.3,888.9 105.6,887.6 106.0,888.3 106.3,886.4 106.7,887.2 107.0,885.6 107.4,885.8 107.7,882.2 108.1,885.4 108.4,883.2 108.8,884.1 109.1,882.2 109.5,882.9 109.8,881.4 110.2,882.4 110.5,880.1 110.9,881.4 111.2,878.5 111.6,880.5 111.9,877.4 112.2,879.2 112.5,872.0 112.9,878.7 113.2,875.7 113.5,877.5 113.9,875.0 114.2,876.2 114.5,874.3 114.9,876.1 115.2,873.5 115.5,874.7 115.9,872.4 116.2,873.3 116.5,871.5 116.9,873.2 117.2,869.8 117.5,871.6 117.9,869.2 118.2,871.1 118.5,867.8 118.8,870.3 119.1,862.5 119.4,868.6 119.7,865.7 120.0,867.7 120.3,865.1 120.6,866.5 120.9,863.5 121.2,865.6 121.5,862.6 121.8,869.6 122.1,861.1 122.4,863.8 122.7,861.2 123.0,862.8 123.2,859.1 123.5,861.8 123.8,858.8 124.1,860.1 124.4,857.9 124.7,858.7 125.0,856.5 125.5,858.9 126.0,855.5 126.6,858.1 127.1,854.9 127.6,857.5 128.2,855.4 128.6,858.0 129.1,855.9 129.6,858.9 130.0,856.7 130.5,858.6 131.0,856.9 131.4,859.4 131.9,857.5 132.3,860.6 132.6,858.6 132.9,861.2 133.2,860.0 133.5,863.0 133.8,857.0 134.1,866.9 134.4,862.6 134.7,864.6 135.0,863.3 135.3,866.1 135.6,864.7 135.9,866.5 136.1,864.9 136.2,868.4 136.4,866.5 136.5,869.0 136.6,863.3 136.8,870.4 136.9,869.0 137.0,872.1 137.2,870.3 137.3,873.2 137.6,870.7 138.2,873.1 138.8,870.2 139.4,872.9 139.9,869.6 140.5,872.8 141.0,870.7 141.4,872.6 141.8,870.7 142.3,873.5 142.7,872.4 143.2,875.1 143.6,872.2 144.1,875.9 144.5,873.6 144.9,876.1 145.4,873.8 145.8,877.4 146.3,875.1 146.7,881.6 147.2,876.5 147.6,878.0 148.2,876.2 148.7,878.9 149.2,877.7 149.8,879.9 150.3,878.2 150.8,884.0 151.4,877.7 151.9,881.3 152.4,879.2 153.0,886.6 153.5,879.5 154.1,882.0 154.6,880.2 155.1,883.1 155.7,876.0 156.2,883.3 156.7,880.9 157.3,883.8 157.8,882.1 158.3,884.2 158.8,881.6 159.2,885.0 159.7,883.4 160.2,885.1 160.6,884.0 161.1,886.7 161.6,885.2 162.1,886.5 162.5,885.1 163.0,888.4 163.5,886.1 163.9,888.8 164.4,887.1 164.9,889.1 165.3,887.6 165.8,889.8 166.3,888.3 166.8,890.4 167.1,888.5 167.5,897.2 167.9,890.6 168.3,892.3 168.6,890.5 169.0,893.5 169.4,892.2 169.8,894.0 170.2,892.6 170.5,895.7 170.9,893.3 171.3,896.1 171.7,894.4 172.0,897.9 172.4,895.2 172.8,898.7 173.2,896.7 173.5,898.7 173.9,897.3 174.4,899.5 174.8,898.9 175.2,900.9 175.6,899.7 176.1,901.8 176.5,899.6 176.9,902.3 177.3,900.5 177.8,904.3 178.2,902.4 178.6,904.3 179.0,902.3 179.5,905.6 179.9,903.7 180.3,906.5 180.7,904.5 181.2,906.6 181.6,905.1 182.0,908.0 182.4,905.5 182.9,908.9 183.3,907.3 183.8,909.5 184.3,907.7 184.7,910.4 185.2,908.9 185.7,911.1 186.1,908.6 186.6,911.0 187.1,910.4 187.6,912.9 188.0,910.0 188.5,912.7 189.0,910.7 189.4,913.8 189.9,912.0 190.4,914.6 190.8,913.0 191.3,915.9 191.8,913.4 192.2,916.8 192.7,914.1 193.2,917.5 193.6,915.0 194.1,917.6 194.6,915.7 195.1,917.7 195.5,916.2 196.0,918.7 196.5,916.7 196.9,919.3 197.4,917.7 197.9,921.0 198.3,918.7 198.8,920.9 199.3,919.1 199.8,921.9 200.2,920.6 200.7,923.2 201.1,920.4 201.6,923.2 202.0,922.0 202.5,924.8 202.9,923.0 203.4,925.9 203.8,923.3 204.3,925.5 204.7,924.7 205.2,926.4 205.6,925.1 206.1,928.3 206.5,926.4 207.0,928.0 207.4,927.0 207.9,929.4 208.3,927.5 208.8,930.0 209.2,928.7 209.6,931.4 210.0,929.1 210.5,932.3 210.9,930.6 211.3,932.6 211.7,931.0 212.2,933.9 212.6,931.4 213.0,934.4 213.4,933.0 213.9,935.4 214.3,932.8 214.7,936.4 215.1,929.5 215.6,937.0 216.0,935.3 216.3,937.4 216.7,935.6 217.1,939.2 217.4,936.8 217.8,940.1 218.2,937.9 218.5,941.1 218.8,938.7 219.1,941.4 219.4,939.9 219.7,943.0 220.0,941.4 220.2,944.4 220.5,941.7 220.8,944.4 221.1,940.0 221.4,945.3 221.7,943.6 222.0,946.5 222.3,939.9 222.5,948.1 222.8,946.9 223.1,948.7 223.4,947.7 223.7,950.5 224.0,948.6 224.3,950.7 224.6,948.8 225.1,952.1 225.5,950.8 226.0,953.5 226.4,950.7 226.9,953.5 227.4,952.2 227.8,954.6 228.3,953.0 228.8,955.7 229.2,952.9 229.7,959.3 230.2,953.7 230.6,957.1 231.2,954.3 231.7,956.7 232.3,954.4 232.8,956.1 233.4,953.1 233.9,955.0 234.5,953.5 235.1,955.5 235.6,952.0 236.2,954.0 236.7,951.9 237.3,953.6 237.8,952.0 238.4,954.2 239.0,950.9 239.5,953.5 240.1,951.0 240.6,953.1 241.2,950.1 241.8,952.3 242.4,950.1 243.0,951.9 243.6,949.8 244.2,951.7 244.8,949.8 245.4,952.4 245.9,949.3 246.5,951.8 247.1,949.9 247.7,951.9 248.3,949.0 248.9,951.9 249.5,948.4 250.1,951.7 250.7,948.7 251.3,951.3 251.9,949.1 252.5,950.1 253.1,948.0 253.6,950.6 254.2,947.3 254.7,949.7 255.3,947.5 255.8,949.9 256.4,946.9 256.9,949.5 257.5,946.7 258.1,949.0 258.6,942.4 259.2,948.7 259.7,945.8 260.3,948.2 260.8,945.4 261.4,947.3 261.9,944.1 262.5,946.9 263.0,944.1 263.6,946.1 264.2,943.8 264.7,950.5 265.3,943.1 265.8,945.4 266.4,943.1 266.9,944.5 267.5,941.8 268.0,944.6 268.6,942.4 269.1,943.8 269.7,941.3 270.3,943.2 270.8,940.5 271.4,943.1 271.9,940.3 272.5,945.9 273.0,940.6 273.6,942.7 274.1,939.2 274.7,941.2 275.2,939.1 275.8,941.2 276.4,939.0 276.9,945.6 277.5,938.6 278.0,940.5 278.6,938.0 279.2,939.4 279.7,937.9 280.3,939.1 280.9,936.9 281.4,939.2 282.0,936.9 282.6,938.8 283.2,936.2 283.7,938.0 284.3,936.6 284.9,938.6 285.4,936.0 286.0,937.3 286.6,934.9 287.1,942.3 287.7,935.3 288.3,936.7 288.8,933.9 289.4,935.9 290.0,934.4 290.5,938.8 291.0,932.9 291.5,934.7 292.0,932.8 292.5,934.7 293.0,932.0 293.5,934.0 294.0,930.7 294.5,933.9 295.0,931.1 295.5,932.3 296.0,930.2 296.5,931.4 297.0,929.8 297.5,931.4 298.0,928.0 298.5,930.3 299.0,928.4 299.5,930.1 300.0,927.6 300.5,928.6 301.0,927.2 301.5,929.1 302.0,926.6 302.4,928.1 302.8,925.3 303.3,927.4 303.7,921.1 304.1,930.5 304.5,919.4 305.0,925.0 305.4,923.0 305.8,924.2 306.2,922.1 306.7,923.8 307.1,920.9 307.5,922.2 307.9,920.2 308.3,922.5 308.8,918.7 309.2,920.8 309.6,918.9 310.0,919.9 310.5,913.6 310.9,919.0 311.3,916.1 311.7,919.0 312.1,915.9 312.6,917.7 313.0,914.7 313.4,917.1 313.8,913.9 314.3,916.3 314.6,913.1 314.8,914.4 315.1,911.9 315.3,914.0 315.5,911.5 315.8,912.3 316.0,909.7 316.3,911.5 316.5,908.4 316.8,910.2 317.0,907.5 317.3,909.6 317.5,907.2 317.8,908.0 318.0,905.7 318.2,907.0 318.5,905.0 318.7,905.8 319.0,903.3 319.2,904.7 319.5,902.1 319.7,903.8 320.0,901.2 320.2,902.5 320.5,899.7 320.7,901.2 320.9,898.4 321.2,900.8 321.4,897.3 321.7,899.6 321.9,897.0 322.2,902.0 322.4,895.1 322.7,897.4 322.8,894.7 323.0,895.8 323.2,893.9 323.4,895.0 323.6,892.3 323.8,894.4 324.0,891.6 324.1,892.7 324.3,890.5 324.5,891.3 324.7,888.8 324.9,891.0 325.1,885.1 325.3,888.9 325.5,886.3 325.6,888.3 325.8,886.0 326.0,887.3 326.2,883.6 326.3,886.3 326.5,882.4 326.7,885.1 326.8,882.2 327.0,884.0 327.1,880.7 327.3,881.9 327.5,879.8 327.6,881.9 327.8,878.3 328.0,880.0 328.1,877.0 328.3,879.2 328.4,876.6 328.6,877.8 328.8,874.6 328.9,876.2 329.0,873.8 329.1,875.0 329.2,873.0 329.3,878.6 329.4,871.7 329.5,873.6 329.6,870.0 329.7,872.1 329.8,869.6 329.9,870.7 330.1,868.3" fill="none" stroke="#ffa200" stroke-width="2.2" stroke-linejoin="round" opacity="1.0"/>
<polyline points="330.1,868.3 330.2,869.0 330.3,867.6 330.4,867.8 330.5,866.2 330.6,866.6 330.7,865.1 330.8,865.6 330.9,863.8 331.0,864.4 331.1,862.4 331.2,863.3 331.3,861.3 331.4,861.6 331.6,860.6 331.7,860.5 331.8,859.1 331.9,859.4 332.0,858.1 332.1,858.6 332.2,856.8 332.3,857.0 332.4,855.5 332.5,856.2 332.6,854.2 332.7,855.0 332.8,853.4 332.9,853.7 333.0,852.1 333.2,852.3 333.3,850.8 333.4,851.2 333.5,849.5 333.6,849.9 333.6,848.5 333.7,848.8 333.8,847.2 333.9,847.7 334.0,846.3 334.0,846.7 334.1,844.8 334.2,845.1 334.3,843.7 334.3,844.3 334.4,842.3 334.5,842.8 334.6,841.5 334.7,842.0 334.7,840.0 334.8,840.6 334.9,839.0 335.0,839.6 335.1,837.9 335.1,838.3 335.2,836.4 335.3,837.0 335.4,835.4 335.5,835.9 335.5,834.2 335.6,834.5 335.7,833.1 335.8,833.6 335.8,829.6 335.9,832.2 336.0,830.6 336.1,831.3 336.2,829.6 336.2,829.8 336.3,828.4 336.4,828.9 336.5,827.2 336.6,827.7 336.6,825.7 336.7,826.1 336.8,824.7 336.9,824.9 336.9,823.5 337.0,824.1 337.1,822.3 337.2,823.0 337.3,820.8 337.3,821.3 337.4,820.1 337.5,820.4 337.6,818.8 337.7,819.0 337.7,817.2 337.8,818.0 337.9,816.4 338.0,816.8 338.1,815.1 338.1,815.7 338.2,814.0 338.3,814.3 338.4,812.9 338.4,813.3 338.5,811.3 338.6,811.6 338.6,810.2 338.7,811.0 338.7,808.9 338.8,809.7 338.9,808.1 338.9,808.7 339.0,806.8 339.1,807.4 339.1,805.4 339.2,806.0 339.2,804.1 339.3,805.1 339.4,803.2 339.4,803.6 339.5,801.7 339.5,802.4 339.6,800.6 339.7,801.0 339.7,799.7 339.8,799.9 339.8,798.5 339.9,798.8 340.0,797.4 340.0,797.4 340.1,796.1 340.2,796.2 340.2,794.9 340.3,795.2 340.3,793.4 340.4,794.0 340.5,792.4 340.5,793.1 340.6,789.1 340.6,791.5 340.7,790.0 340.8,790.6 340.8,789.0 340.9,789.4 341.0,787.7 341.0,788.1 341.1,786.4 341.1,786.8 341.2,785.4 341.3,785.5 341.3,784.3 341.4,784.7 341.4,782.8 341.5,783.5 341.6,779.6 341.6,782.1 341.7,780.4 341.8,780.7 341.8,779.3 341.9,779.8 341.9,778.1 342.0,778.4 342.1,777.1 342.1,777.0 342.1,775.6 342.2,775.9 342.2,774.8 342.2,775.2 342.2,773.1 342.3,775.1 342.3,772.1 342.3,772.3 342.4,770.6 342.4,771.2 342.4,769.5 342.4,770.3 342.5,768.8 342.5,768.6 342.5,767.3 342.6,767.4 342.6,765.9 342.6,766.8 342.6,764.8 342.7,765.2 342.7,763.9 342.7,763.9 342.7,762.5 342.8,762.7 342.8,761.5 342.8,761.8 342.9,758.1 342.9,760.6 342.9,758.6 342.9,759.5 343.0,757.7 343.0,758.0 343.0,756.7 343.0,757.1 343.1,755.3 343.1,755.9 343.1,754.1 343.2,754.7 343.2,752.8 343.2,753.3 343.2,751.6 343.3,752.2 343.3,750.8 343.3,751.1 343.3,749.5 343.4,749.7 343.4,748.1 343.4,748.7 343.5,747.1 343.5,747.4 343.5,745.5 343.5,748.4 343.6,744.5 343.6,744.9 343.6,743.2 343.7,743.9 343.7,742.1 343.7,742.2 343.7,740.7 343.8,741.4 343.8,739.9 343.8,740.2 343.9,738.5 343.9,738.7 343.9,737.4 344.0,737.8 344.0,736.2 344.1,736.3 344.1,735.2 344.1,735.2 344.2,733.6 344.2,734.0 344.3,732.6 344.3,733.1 344.3,731.2 344.4,732.0 344.4,729.9 344.4,730.8 344.5,728.9 344.5,729.5 344.6,727.4 344.6,727.8 344.6,726.5 344.7,727.1 344.7,725.5 344.8,725.5 344.8,724.1 344.8,724.3 344.9,723.1 344.9,723.1 345.0,719.8 345.0,721.9 345.0,720.3 345.1,721.0 345.1,719.4 345.1,719.5 345.2,718.2 345.2,718.4 345.3,716.7 345.3,717.3 345.3,716.0 345.4,716.4 345.4,714.3 345.5,715.2 345.5,713.5 345.5,713.7 345.6,712.0 345.6,712.3 345.7,711.0 345.7,711.2 345.7,709.5 345.8,709.9 345.8,708.3 345.8,708.7 345.9,707.1 345.9,707.7 346.0,706.3 346.0,706.4 346.0,704.7 346.1,705.2 346.1,703.6 346.2,704.4 346.2,702.7 346.2,703.0 346.3,701.3 346.3,702.0 346.4,700.4 346.4,700.5 346.5,698.9 346.5,699.2 346.6,697.9 346.6,698.3 346.7,696.5 346.7,697.0 346.8,695.2 346.8,695.6 346.9,693.9 346.9,694.5 347.0,692.7 347.0,693.5 347.1,691.7 347.1,692.3 347.2,690.4 347.2,690.9 347.3,689.3 347.3,689.6 347.4,688.1 347.4,688.9 347.5,686.7 347.5,689.4 347.6,685.6 347.6,686.3 347.7,684.6 347.7,684.9 347.8,683.4 347.8,683.8 347.9,681.9 347.9,682.8 348.0,681.2 348.0,681.6 348.1,679.8 348.1,680.5 348.2,678.8 348.2,679.2 348.3,677.4 348.3,677.7 348.4,676.5 348.4,676.9 348.5,675.3 348.5,675.3 348.6,673.8 348.6,674.1 348.6,672.6 348.7,672.8 348.7,671.3 348.8,671.9 348.8,670.2 348.9,670.9 348.9,669.2 349.0,669.4 349.0,668.1 349.1,668.1 349.1,666.6 349.1,667.2 349.2,665.6 349.2,666.0 349.3,664.1 349.3,664.6 349.4,662.8 349.4,663.4 349.5,661.6 349.5,662.5 349.6,660.7 349.6,661.3 349.6,659.3 349.7,659.9 349.7,658.2 349.8,658.8 349.8,655.3 349.9,657.7 349.9,655.6 350.0,656.2 350.0,655.0 350.1,654.9 350.1,653.5 350.1,653.6 350.2,652.3 350.2,652.5 350.3,651.2 350.3,651.4 350.4,649.6 350.4,650.3 350.5,648.9 350.5,649.2 350.6,647.2 350.6,648.0 350.6,646.6 350.7,646.9 350.7,645.3 350.8,645.7 350.8,643.7 350.9,644.4 350.9,643.0 351.0,643.0 351.0,640.1" fill="none" stroke="#ffa200" stroke-width="1.0" stroke-linejoin="round" opacity="1.0"/>
<polyline points="30.7,840.6 30.8,839.8 30.9,842.7 31.0,840.5 31.1,842.9 31.2,841.9 31.4,844.6 31.5,843.5 31.6,846.2 31.7,844.7 31.8,846.9 31.9,845.3 32.1,848.1 32.4,846.3 32.8,852.2 33.2,846.7 33.6,849.7 34.0,848.0 34.4,856.0 34.7,849.4 35.1,851.2 35.5,849.5 35.9,852.5 36.3,850.9 36.8,854.7 37.4,850.6 38.0,854.1 38.6,850.4 39.2,853.4 39.8,850.7 40.4,854.2 41.0,846.1 41.5,854.9 42.1,850.6 42.7,854.2 43.3,851.3 43.9,854.5 44.5,851.3 45.1,855.5 45.7,852.4 46.3,855.9 46.9,851.5 47.5,855.3 48.0,846.1 48.6,854.5 49.2,850.7 49.8,855.0 50.4,851.7 51.0,854.7 51.5,850.8 52.1,853.7 52.7,851.1 53.3,853.4 53.8,851.3 54.0,854.3 54.1,852.4 54.3,855.1 54.4,853.4 54.6,856.3 54.7,854.9 54.8,856.9 55.0,855.3 55.1,859.3 55.3,856.3 55.4,860.8 55.5,858.1 55.7,861.8 55.8,859.4 56.0,863.2 56.4,859.0 56.8,862.1 57.3,857.7 57.8,862.3 58.3,858.6 58.8,861.7 59.3,860.1 59.8,862.4 60.1,860.5 60.4,861.9 60.6,858.2 60.8,860.6 61.0,858.1 61.2,860.2 61.5,856.0 61.7,859.9 61.9,855.1 62.1,857.4 62.3,854.3 62.6,857.2 62.9,854.1 63.3,856.2 63.7,852.7 64.2,855.2 64.6,851.4 65.0,854.6 65.4,851.2 65.6,854.9 65.9,852.9 66.1,855.9 66.3,854.1 66.6,856.9 66.8,854.5 67.0,858.6 67.3,855.8 67.5,858.3 67.7,856.7 67.9,859.8 68.1,857.4 68.4,861.2 68.6,859.2 68.8,863.3 69.0,860.3 69.3,863.4 69.5,861.5 69.7,864.7 69.9,859.3 70.2,867.6 70.5,860.2 70.9,868.7 71.2,861.8 71.5,871.2 71.8,862.5 72.1,871.4 72.4,863.6 72.8,872.7 73.1,866.7 73.4,872.5 73.7,867.4 74.0,872.7 74.4,867.6 74.7,873.9 75.0,868.4 75.4,875.9 75.7,871.3 76.1,876.3 76.4,871.2 76.8,878.3 77.2,873.3 77.5,877.2 77.9,872.6 78.3,879.0 78.6,873.0 79.0,879.7 79.4,875.7 79.7,882.9 80.2,876.4 80.7,880.7 81.2,876.9 81.7,891.7 82.2,877.7 82.7,883.4 83.2,875.7 83.8,882.5 84.3,878.3 84.8,885.1 85.3,877.1 85.8,887.0 86.3,880.6 86.8,886.0 87.2,878.5 87.7,884.9 88.2,880.3 88.7,886.0 89.2,871.2 89.7,889.6 90.2,881.9 90.7,886.8 91.2,884.3 91.7,889.0 92.2,882.1 92.7,889.0 93.1,883.4 93.6,890.3 94.1,885.6 94.6,892.1 95.1,886.2 95.6,891.6 96.0,885.2 96.5,892.8 97.0,885.9 97.5,893.6 97.9,889.0 98.4,894.1 98.9,887.1 99.3,895.3 99.8,887.5 100.2,894.0 100.5,890.8 100.9,897.9 101.2,890.5 101.5,898.1 101.9,891.5 102.2,900.3 102.5,892.5 102.8,900.1 103.2,893.9 103.5,901.6 103.8,895.9 104.0,901.1 104.3,897.2 104.6,902.4 104.9,898.6 105.2,901.8 105.5,899.5 105.8,904.7 106.1,900.3 106.4,905.2 106.8,901.9 107.1,905.6 107.5,902.1 107.8,905.9 108.2,902.8 108.5,908.7 108.9,903.5 109.2,908.0 109.6,906.4 109.9,916.6 110.4,899.4 110.8,910.1 111.3,907.5 111.7,911.7 112.2,903.6 112.6,912.1 113.1,908.5 113.5,913.4 114.0,910.6 114.5,914.3 115.1,910.3 115.6,914.0 116.1,910.6 116.6,914.3 117.1,910.5 117.6,914.8 118.2,911.9 118.7,915.3 119.2,912.3 119.7,917.5 120.2,912.3 120.7,916.4 121.3,913.5 121.8,918.7 122.3,915.1 122.8,925.7 123.3,914.5 123.9,919.6 124.4,915.7 124.9,919.9 125.4,916.7 126.0,919.2 126.5,917.3 127.0,924.8 127.5,917.8 128.1,920.6 128.6,918.8 129.1,921.1 129.7,918.6 130.2,921.3 130.8,920.1 131.3,921.4 131.9,919.5 132.5,923.1 133.1,920.7 133.6,922.5 134.2,921.1 134.8,923.3 135.3,921.1 135.9,923.9 136.5,921.6 137.1,923.9 137.7,921.2 138.3,923.8 138.9,920.7 139.5,923.9 140.1,921.1 140.7,927.8 141.3,921.0 141.9,923.0 142.5,921.1 143.1,923.9 143.7,920.6 144.3,922.7 144.9,920.9 145.5,923.1 146.1,921.6 146.7,922.8 147.3,920.7 147.9,924.1 148.5,921.3 149.1,923.6 149.6,921.7 150.2,924.6 150.8,921.7 151.4,923.9 151.9,922.8 152.5,925.3 153.1,922.7 153.7,925.4 154.2,922.7 154.8,925.7 155.4,923.1 156.0,925.9 156.5,924.1 157.1,925.8 157.7,923.4 158.3,925.9 158.8,924.2 159.4,927.4 160.0,925.1 160.6,926.6 161.1,925.3 161.7,927.3 162.3,925.5 162.9,927.8 163.4,925.2 164.0,927.7 164.6,925.6 165.2,927.9 165.8,925.8 166.4,928.5 166.9,926.3 167.5,928.2 168.1,926.8 168.7,929.3 169.3,926.8 169.9,929.7 170.5,927.6 171.1,929.3 171.7,927.1 172.3,929.0 172.9,927.0 173.5,934.1 174.1,928.0 174.7,929.6 175.3,927.6 175.8,929.6 176.4,928.4 177.0,930.1 177.6,928.5 178.2,930.9 178.8,928.3 179.4,931.3 180.0,928.3 180.6,930.6 181.2,929.0 181.8,930.6 182.4,929.3 183.0,931.4 183.5,928.9 184.1,931.3 184.7,929.7 185.3,935.7 185.9,929.1 186.5,931.5 187.1,930.5 187.6,932.7 188.2,930.2 188.8,932.5 189.4,930.3 190.0,933.2 190.6,931.3 191.2,933.8 191.7,930.4 192.3,933.3 192.9,931.3 193.5,933.3 194.1,931.4 194.7,933.5 195.3,931.7 195.8,934.7 196.4,932.0 197.0,934.9 197.6,932.8 198.2,935.2 198.8,933.1 199.4,934.6 199.9,932.5 200.5,934.9 201.1,933.6 201.7,938.4 202.3,932.8 202.9,934.9 203.5,934.0 204.1,936.4 204.7,933.2 205.3,935.8 205.9,934.2 206.5,936.6 207.1,933.6 207.6,936.5 208.2,934.1 208.8,936.5 209.4,930.1 210.0,936.7 210.6,935.1 211.2,940.1 211.8,934.6 212.4,937.4 213.0,934.7 213.6,937.6 214.2,935.4 214.8,937.3 215.4,935.6 215.9,940.9 216.5,935.8 217.1,938.3 217.7,936.1 218.3,937.6 218.9,935.6 219.5,938.0 220.1,936.2 220.7,939.0 221.3,935.6 221.9,938.0 222.5,936.6 223.1,938.4 223.7,936.1 224.3,938.3 224.9,936.2 225.5,938.8 226.1,935.9 226.7,938.3 227.3,931.6 227.9,938.1 228.5,937.1 229.1,938.1 229.7,937.0 230.3,939.2 230.9,936.8 231.5,938.9 232.1,936.7 232.7,938.5 233.3,937.3 233.9,938.6 234.5,936.3 235.1,938.8 235.7,936.9 236.3,938.8 236.9,936.6 237.5,939.4 238.1,937.1 238.7,939.2 239.3,937.1 239.9,939.4 240.5,936.9 241.1,939.4 241.7,936.4 242.3,939.8 242.9,937.4 243.4,938.9 244.0,937.3 244.6,938.7 245.2,931.9 245.8,939.0 246.4,936.3 247.0,938.0 247.6,935.8 248.2,938.6 248.8,936.4 249.4,938.7 250.0,933.6 250.6,937.7 251.2,935.4 251.8,942.6 252.4,936.2 253.0,937.8 253.6,935.2 254.2,937.8 254.8,936.0 255.4,942.1 256.0,934.9 256.6,937.2 257.1,935.5 257.7,936.6 258.3,935.2 258.9,937.6 259.5,935.3 260.1,936.9 260.7,934.0 261.3,941.9 261.9,934.6 262.5,936.7 263.1,934.6 263.7,936.3 264.3,934.2 264.8,936.6 265.4,933.2 266.0,936.2 266.6,933.7 267.2,936.1 267.8,932.7 268.4,935.3 269.0,928.3 269.5,934.8 269.9,933.0 270.2,934.6 270.5,932.1 270.9,933.4 271.2,931.0 271.5,932.5 271.9,929.2 272.2,931.8 272.5,928.6 272.9,930.1 273.2,924.4 273.5,929.5 274.0,926.2 274.4,928.0 274.9,926.1 275.4,927.2 275.9,925.5 276.4,927.4 276.9,923.9 277.4,927.0 277.9,924.4 278.4,925.7 279.0,919.8 279.6,929.5 280.1,923.2 280.7,925.5 281.3,922.2 281.8,924.2 282.4,922.2 283.0,923.8 283.5,922.3 284.1,923.9 284.6,921.6 285.1,923.6 285.6,918.0 286.1,924.9 286.6,919.8 287.1,921.5 287.6,919.9 288.1,921.9 288.6,919.0 289.1,920.0 289.6,918.0 290.1,919.2 290.6,917.0 291.1,918.8 291.7,917.4 292.2,919.4 292.8,916.3 293.3,918.8 293.8,915.2 294.4,918.0 294.9,915.8 295.4,917.4 296.0,915.2 296.5,916.0 297.0,913.6 297.6,915.8 298.1,913.2 298.6,915.5 299.1,912.5 299.6,914.9 300.0,911.5 300.5,914.0 301.0,910.9 301.5,913.7 302.0,910.6 302.4,912.6 302.9,910.1 303.4,912.1 303.9,909.7 304.4,911.1 304.8,908.4 305.3,910.2 305.8,908.2 306.3,909.2 306.8,906.7 307.3,909.5 307.7,905.9 308.2,908.6 308.7,905.5 309.2,911.8 309.6,904.4 310.1,906.8 310.6,904.0 311.1,905.6 311.6,903.2 312.0,904.9 312.5,902.2 313.0,905.0 313.5,902.0 314.0,904.2 314.4,901.7 314.8,903.1 315.2,901.0 315.6,901.9 315.9,899.8 316.3,900.8 316.7,898.6 317.1,899.7 317.4,898.2 317.8,899.2 318.2,896.0 318.6,898.7 318.9,891.0 319.3,897.1 319.7,895.3 320.1,896.5 320.4,893.6 320.8,896.1 321.2,888.9 321.6,895.2 322.0,891.6 322.3,897.1 322.7,891.3 323.0,892.7 323.3,890.5 323.6,891.9 323.9,889.6 324.2,890.7 324.5,888.4 324.9,889.7 325.2,887.4 325.5,888.0 325.8,886.0 326.1,887.5 326.4,884.8 326.7,886.1 327.0,883.8 327.3,888.1 327.6,883.4 327.9,884.4 328.3,881.6 328.6,883.2 328.8,880.4 328.9,882.8 329.0,880.2 329.2,880.8 329.3,878.7 329.4,885.1 329.5,877.2 329.6,878.9 329.7,876.6 329.8,877.4 329.9,875.3 330.0,876.0 330.1,874.2 330.2,874.6 330.3,872.9 330.5,873.3 330.6,872.2 330.7,872.3 330.8,870.6 330.9,871.4 331.0,869.6 331.1,869.7 331.2,866.7 331.3,868.5 331.4,867.0 331.5,867.5 331.7,866.3 331.8,866.2 331.9,864.6 332.0,865.5 332.1,863.8 332.2,864.4 332.3,862.3 332.4,864.3 332.5,861.6 332.6,861.5 332.7,860.2 332.9,860.3 333.0,859.1 333.1,859.2 333.2,857.5 333.3,857.9 333.4,856.3 333.5,857.0 333.6,855.3 333.7,857.6 333.8,853.9 333.9,854.4 334.0,853.2 334.2,853.4 334.3,851.8 334.4,852.2 334.5,850.8 334.6,850.8 334.7,849.5 334.8,850.1 334.9,848.1 334.9,848.7 335.0,846.8 335.1,847.8 335.2,846.0 335.3,846.1 335.3,844.5 335.4,847.0 335.5,843.5 335.6,844.2 335.6,842.4 335.7,842.8 335.8,841.4 335.9,841.5 336.0,839.7 336.0,840.1 336.1,839.0 336.2,838.9 336.3,837.6 336.4,838.1 336.4,836.4 336.5,837.0 336.6,835.1 336.7,835.7 336.7,834.0 336.8,834.4 336.9,833.1 337.0,833.0 337.1,831.6 337.1,831.9 337.2,829.1 337.3,831.0 337.4,829.2 337.5,829.5 337.5,828.2 337.6,828.3 337.7,826.8 337.8,827.4 337.9,825.9 337.9,826.0 338.0,824.7 338.1,825.0 338.2,823.4 338.2,823.9 338.3,822.3 338.4,822.6 338.5,820.9 338.6,821.6 338.6,819.6 338.7,820.4 338.8,818.5 338.9,818.7 339.0,817.5 339.0,817.9 339.1,816.3 339.2,816.7 339.3,815.2 339.3,815.5 339.4,813.9 339.5,814.5 339.6,812.9 339.6,812.9 339.7,811.3 339.8,813.8 339.8,810.2 339.9,810.5 340.0,809.3 340.0,809.3 340.1,807.6 340.1,808.4 340.2,806.8 340.3,807.1 340.3,805.3 340.4,806.0 340.4,804.5 340.5,804.5 340.6,800.5 340.6,803.3 340.7,801.7 340.8,802.4 340.8,800.5 340.9,800.8 340.9,799.2 341.0,800.1 341.1,798.4 341.1,798.8 341.2,797.4 341.2,797.7 341.3,796.0 341.4,796.4 341.4,794.5 341.5,794.8 341.6,793.3 341.6,793.7 341.7,792.5 341.7,794.4 341.8,791.3 341.9,791.6 341.9,790.1 342.0,792.0 342.0,788.6 342.1,789.4 342.2,787.6 342.2,787.8 342.3,786.3 342.3,786.8 342.4,784.9 342.5,785.6 342.5,784.0 342.6,784.2 342.7,782.6 342.7,783.3 342.8,781.8 342.8,781.9 342.9,780.6 343.0,780.8 343.0,779.3 343.1,779.4 343.1,778.0 343.2,778.5 343.3,776.9 343.3,777.4 343.3,775.8 343.4,775.7 343.4,774.3 343.4,774.8 343.5,773.1 343.5,773.9 343.5,772.0 343.5,772.6 343.6,770.7 343.6,771.2 343.6,769.6 343.6,770.3 343.7,768.5 343.7,768.8 343.7,767.2 343.8,768.9 343.8,766.3 343.8,766.5 343.8,765.1 343.9,765.1 343.9,763.6 343.9,764.1 343.9,762.4 344.0,762.9 344.0,761.5 344.0,761.5 344.1,759.9 344.1,760.4 344.1,758.6 344.1,759.2 344.2,757.6 344.2,758.1 344.2,756.1 344.3,756.5 344.3,755.5 344.3,755.4 344.3,754.2 344.4,754.1 344.4,752.5 344.4,753.0 344.4,751.6 344.5,752.3 344.5,750.4 344.5,750.7 344.6,749.4 344.6,749.6 344.6,748.1 344.6,748.4 344.7,746.9 344.7,749.1 344.7,745.4 344.7,746.3 344.8,744.4 344.8,744.6 344.8,740.9 344.9,743.6 344.9,742.1 344.9,742.3 344.9,740.6 345.0,741.4 345.0,739.8 345.0,740.0 345.1,738.5 345.1,738.8 345.1,737.1 345.2,737.9 345.2,736.3 345.3,736.7 345.3,734.6 345.3,735.1 345.4,733.4 345.4,734.3 345.5,732.3 345.5,732.6 345.5,731.3 345.6,731.8 345.6,730.0 345.7,730.2 345.7,728.7 345.7,729.2 345.8,727.8 345.8,728.0 345.8,726.7 345.9,726.8 345.9,725.6 346.0,726.0 346.0,724.3 346.0,724.4 346.1,723.0 346.1,723.2 346.2,721.8 346.2,722.3 346.2,720.7 346.3,721.2 346.3,719.3 346.4,720.0 346.4,716.0 346.4,718.2 346.5,716.7 346.5,717.1 346.5,715.5 346.6,718.1 346.6,714.7 346.7,714.8 346.7,713.3 346.7,713.9 346.8,711.9 346.8,714.5 346.9,710.9 346.9,711.5 346.9,709.9 347.0,710.4 347.0,708.3 347.0,708.7 347.1,707.2 347.1,707.8 347.2,706.0 347.2,706.3 347.2,705.2 347.3,705.1 347.3,702.0 347.4,704.1 347.4,702.4 347.4,703.0 347.5,701.1 347.5,701.7 347.6,700.2 347.6,700.3 347.7,698.7 347.7,700.8 347.8,697.4 347.8,698.4 347.9,696.8 347.9,698.9 348.0,695.3 348.0,698.0 348.1,694.4 348.1,694.6 348.2,692.9 348.2,693.3 348.3,692.0 348.3,692.3 348.4,690.8 348.4,690.9 348.5,689.6 348.5,689.6 348.6,688.3 348.6,688.6 348.7,686.9 348.7,687.5 348.8,685.8 348.8,686.3 348.9,684.5 348.9,685.0 349.0,683.2 349.0,684.1 349.1,682.2 349.1,682.9 349.2,680.9 349.2,683.6 349.3,679.8 349.3,680.3 349.4,678.7 349.4,679.3 349.5,677.5 349.5,677.9 349.6,676.0 349.6,676.8 349.7,674.9 349.7,675.5 349.8,673.7 349.8,674.3 349.8,672.7 349.9,673.3 349.9,671.6 350.0,671.6 350.0,670.3 350.1,670.5 350.1,668.7 350.2,669.4 350.2,667.6 350.3,668.3 350.3,666.8 350.3,667.3 350.4,665.2 350.4,665.6 350.5,664.1 350.5,664.7 350.6,663.2 350.6,663.3 350.7,661.7 350.7,662.1 350.8,660.6 350.8,661.1 350.8,659.4 350.9,659.7 350.9,658.1 351.0,658.7 351.0,656.9 351.1,657.5 351.1,656.0 351.2,656.4 351.2,654.7 351.3,655.3 351.3,653.5 351.3,653.7 351.4,652.3 351.4,652.6 351.5,650.8 351.5,651.4 351.6,649.6 351.6,650.0 351.7,648.9 351.7,649.0 351.8,647.3 351.8,647.9 351.8,646.3 351.9,646.6 351.9,644.9 352.0,645.3 352.0,643.7 352.1,644.2 352.1,642.6 352.2,643.3 352.2,641.5" fill="none" stroke="#ff22ff" stroke-width="0.9" stroke-linejoin="round" opacity="1.0"/>
<line x1="54.30" y1="801.00" x2="54.30" y2="864.00" stroke="#f070f0" stroke-width="0.8" />
<line x1="285.50" y1="895.00" x2="285.50" y2="923.00" stroke="#f488f4" stroke-width="0.8" />
<polyline points="30.7,844.9 30.8,843.1 30.8,843.2 30.9,841.6 30.9,841.3 31.0,839.7 31.0,839.7 31.1,836.7 31.2,838.1 31.2,836.3 31.3,836.4 31.3,834.6 31.4,834.5 31.5,832.8 31.5,833.0 31.6,831.3 31.9,831.4 32.4,828.0 33.0,829.7 33.5,828.4 34.0,828.6 34.3,826.8 34.6,827.0 34.9,825.6 35.3,825.4 35.6,823.8 35.9,823.8 36.2,822.1 36.5,822.1 36.8,819.3 37.0,820.6 37.2,818.9 37.4,819.8 37.6,819.7 37.8,821.2 38.0,821.2 38.7,822.6 39.2,821.5 39.5,821.5 39.8,819.0 40.1,820.1 40.5,818.3 40.8,818.3 41.1,816.9 41.4,816.8 41.7,815.4 42.1,815.1 42.5,813.5 42.9,813.9 43.3,812.3 43.7,812.4 44.1,811.0 44.5,811.0 44.9,809.3 45.3,810.2 45.6,810.2 45.9,811.6 46.3,811.8 46.6,813.4 46.9,813.2 47.0,813.1 47.1,811.3 47.3,811.6 47.4,809.9 47.5,811.4 47.6,808.0 47.7,807.9 47.9,806.5 48.0,806.5 48.1,804.6 48.2,804.5 48.3,803.3 48.5,803.1 48.5,802.4 48.6,803.9 48.7,804.2 48.8,805.6 48.8,804.4 48.9,807.5 49.0,807.5 49.1,809.0 49.1,809.2 49.2,810.8 49.3,810.9 49.4,812.5 49.4,812.6 49.6,813.8 49.7,812.1 49.9,811.9 50.0,810.6 50.2,810.2 50.4,808.9 50.5,808.7 50.7,807.3 50.9,807.1 51.0,805.5 51.2,805.4 51.3,803.7 51.5,803.9 51.6,802.1 51.8,801.8 51.9,800.6 52.1,800.4 52.2,798.8 52.4,798.8 52.5,797.1 52.6,797.7 52.8,797.7 52.9,799.3 53.0,799.6 53.1,801.0 53.2,801.3 53.3,803.0 53.4,802.8 53.5,805.9 53.6,804.5 53.7,806.0 53.8,806.4 53.9,807.9 54.3,807.7 54.7,809.4 55.0,809.4 55.4,811.1 55.8,811.0 56.2,812.6 56.5,812.4 56.7,814.1 57.0,814.1 57.2,815.7 57.4,814.8 57.7,817.5 57.9,817.2 58.1,819.1 58.4,819.1 58.6,820.7 58.8,820.6 59.1,822.0 59.4,822.1 60.0,823.4 60.6,823.2 61.2,824.7 61.8,824.4 62.4,825.9 63.0,825.8 63.6,827.3 64.2,826.8 64.8,828.5 65.3,828.1 65.5,829.8 65.8,829.8 66.0,831.5 66.2,831.4 66.4,833.3 66.6,833.3 66.8,835.0 67.0,835.1 67.2,837.6 67.4,835.7 67.6,838.5 67.8,837.4 68.0,840.7 68.2,839.1 68.4,842.5 68.6,841.0 68.9,843.5 69.2,842.6 69.5,845.0 69.8,844.1 70.1,847.2 70.4,845.2 70.6,848.6 70.9,842.6 71.2,850.6 71.5,848.7 71.7,851.2 72.0,850.4 72.2,856.5 72.4,851.9 72.7,855.6 72.9,853.8 73.1,857.1 73.4,856.0 73.6,858.8 73.8,857.5 74.1,860.3 74.3,858.9 74.5,861.4 74.8,860.8 75.2,862.5 75.9,861.3 76.5,864.4 77.2,863.1 77.9,865.3 78.5,864.0 79.2,866.7 80.0,865.0 80.8,866.9 81.6,864.6 82.4,870.0 83.2,865.4 84.0,868.3 84.8,865.8 85.7,871.7 86.5,866.4 87.4,868.5 88.2,866.0 89.1,868.5 89.9,865.8 90.7,868.1 91.6,865.1 92.4,867.0 93.2,864.8 94.0,870.5 94.9,864.4 95.7,866.3 96.5,864.5 97.2,865.6 97.7,863.0 98.2,864.4 98.6,862.0 99.1,863.6 99.5,860.7 100.0,865.4 100.5,858.2 101.0,862.3 101.5,856.2 102.0,861.0 102.5,855.0 103.0,858.1 103.6,854.1 104.1,858.2 104.5,851.8 105.0,855.2 105.5,851.9 105.9,853.8 106.4,849.6 106.8,852.2 107.3,848.0 107.8,851.1 108.3,846.3 108.8,849.6 109.3,839.4 109.8,848.4 110.3,845.3 110.8,846.6 111.3,842.2 111.9,845.4 112.5,841.2 113.0,848.4 113.5,839.2 114.1,845.6 114.6,837.3 115.1,843.6 115.6,834.5 116.2,840.5 116.7,835.3 117.2,840.9 117.8,832.8 118.4,840.7 118.9,834.3 119.5,836.8 120.0,832.1 120.6,836.6 121.3,828.7 121.9,850.9 122.5,826.9 123.3,835.1 124.2,829.0 125.0,834.2 125.9,827.2 126.7,837.5 127.6,827.1 128.4,837.0 129.2,827.9 130.0,836.8 130.8,828.6 131.7,836.4 132.5,829.4 133.3,838.7 134.1,830.5 134.8,839.0 135.4,829.4 136.0,835.3 136.6,830.8 137.2,834.5 137.8,829.0 138.4,835.7 139.0,826.5 139.3,835.2 139.6,826.5 139.8,837.1 140.1,828.3 140.4,837.8 140.7,830.4 140.9,841.0 141.2,833.3 141.5,841.5 141.9,832.7 142.3,841.1 142.7,837.9 143.1,843.6 143.5,826.9 143.9,845.3 144.3,840.3 144.7,848.7 145.1,840.7 145.5,848.0 145.9,843.9 146.3,849.4 146.9,841.5 147.5,850.7 148.0,843.6 148.6,854.0 149.1,848.1 149.7,854.1 150.1,847.2 150.5,851.9 151.0,833.2 151.4,849.8 151.8,841.9 152.2,848.0 152.6,840.9 152.7,848.3 152.9,839.4 153.1,853.9 153.3,836.9 153.5,842.5 153.7,837.0 153.8,855.0 154.0,834.6 154.2,839.0 154.4,832.2 154.6,840.7 154.7,832.6 154.9,839.1 155.1,831.7 155.3,837.5 155.5,827.5 155.7,833.0 155.8,827.7 156.0,832.3 156.3,826.8 156.5,834.2 156.7,828.0 157.0,834.1 157.2,830.8 157.4,852.1 157.7,830.1 157.9,837.6 158.4,832.2 159.1,838.5 159.7,833.2 160.4,841.0 160.9,835.0 161.3,843.7 161.6,837.4 162.0,845.0 162.3,836.4 162.7,846.8 163.0,839.3 163.4,848.1 163.7,839.6 164.1,846.9 164.4,840.7 164.8,850.3 165.1,842.7 165.4,850.2 165.8,846.8 166.1,853.8 166.4,832.6 166.8,856.9 167.1,849.8 167.4,855.6 167.8,850.0 168.1,856.9 168.4,850.5 168.8,858.7 169.1,855.8 169.4,861.9 169.8,856.4 170.1,862.5 170.4,859.2 170.8,863.1 171.2,859.6 171.5,864.6 171.9,862.4 172.3,872.7 172.6,863.8 173.0,866.6 173.3,863.5 173.7,876.9 174.1,867.0 174.4,869.6 174.8,866.7 175.2,873.2 175.5,868.5 175.9,874.5 176.4,865.5 176.8,875.5 177.2,871.5 177.6,876.2 178.0,873.0 178.4,885.2 178.8,875.0 179.2,880.1 179.6,877.7 180.0,881.0 180.4,878.4 180.8,882.4 181.2,878.5 181.7,885.3 182.1,875.3 182.5,886.0 182.8,883.2 183.2,887.6 183.6,882.9 184.0,895.7 184.3,885.9 184.7,890.0 185.1,886.6 185.4,892.6 185.8,881.8 186.2,892.7 186.5,890.5 186.9,896.0 187.3,891.1 187.7,896.8 188.0,892.1 188.4,897.8 188.8,889.0 189.1,898.9 189.5,896.9 190.0,902.0 190.4,889.6 190.9,902.7 191.4,900.0 191.8,903.4 192.3,899.5 192.8,905.2 193.3,896.1 193.7,906.0 194.2,903.2 194.7,909.0 195.1,904.9 195.6,908.9 196.1,905.5 196.6,910.5 197.1,900.9 197.6,912.4 198.2,908.9 198.7,914.4 199.2,910.3 199.8,915.2 200.3,911.6 200.9,916.6 201.4,911.9 201.9,916.5 202.5,913.2 203.0,919.8 203.6,915.8 204.1,919.0 204.6,916.9 205.2,921.9 205.7,918.9 206.2,922.1 206.7,919.9 207.2,930.5 207.7,920.7 208.1,926.1 208.6,922.1 209.1,927.4 209.6,923.8 210.1,928.4 210.6,926.0 211.1,931.0 211.6,927.3 212.1,931.9 212.6,927.5 213.1,933.2 213.6,929.2 214.1,934.1 214.4,931.1 214.8,934.5 215.2,931.9 215.6,937.3 215.9,934.2 216.3,939.5 216.7,934.3 217.0,939.7 217.4,936.9 217.8,940.9 218.1,937.8 218.5,942.4 218.9,934.9 219.3,945.7 219.6,942.2 220.0,954.2 220.4,942.8 220.9,946.9 221.4,943.6 221.9,949.2 222.4,945.0 223.0,950.0 223.5,947.5 224.0,950.7 224.5,949.2 225.0,953.1 225.7,949.7 226.5,952.9 227.2,951.1 227.9,964.1 228.6,952.4 229.3,954.6 230.1,951.8 230.8,955.6 231.6,953.0 232.5,957.9 233.3,954.0 234.2,956.9 235.0,954.0 235.8,958.1 236.7,953.5 237.5,956.7 238.4,953.2 239.2,959.0 240.0,953.4 240.9,957.6 241.7,953.2 242.5,959.0 243.4,954.7 244.2,957.1 244.9,953.7 245.7,956.5 246.5,954.1 247.3,957.2 248.1,952.0 248.9,956.5 249.7,943.1 250.5,956.4 251.3,950.5 252.1,962.5 252.9,950.1 253.6,955.1 254.4,949.7 255.2,962.1 255.9,948.5 256.7,951.7 257.4,947.5 258.2,952.1 259.0,947.5 259.7,951.7 260.5,947.0 261.2,950.0 262.0,946.7 262.7,955.6 263.4,946.4 264.2,949.7 264.9,943.2 265.6,948.4 266.4,935.0 267.1,946.9 267.9,941.9 268.6,946.2 269.3,942.1 270.1,946.0 270.8,932.0 271.5,943.6 272.3,940.3 273.0,944.6 273.7,938.0 274.4,942.0 275.0,937.4 275.7,940.6 276.3,936.6 277.0,948.9 277.6,936.6 278.3,940.1 278.9,935.8 279.6,938.3 280.2,934.1 280.9,938.4 281.5,932.0 282.2,935.6 282.8,930.4 283.5,935.3 284.2,931.3 284.8,933.4 285.5,928.6 286.1,933.9 286.8,929.4 287.4,931.9 288.1,927.9 288.7,931.2 289.4,927.3 290.0,930.2 290.7,925.0 291.3,928.8 292.0,924.0 292.7,927.8 293.3,922.1 294.0,925.3 294.6,922.2 295.3,924.5 295.9,920.8 296.6,924.4 297.2,919.8 297.9,923.8 298.5,919.6 299.0,920.9 299.5,917.9 300.0,919.4 300.5,907.5 301.0,919.5 301.5,914.7 302.0,918.2 302.5,913.3 303.0,916.5 303.6,912.7 304.1,914.6 304.6,911.3 305.1,914.2 305.6,908.5 306.1,913.1 306.6,906.6 307.1,911.0 307.6,907.0 308.1,909.0 308.7,904.5 309.2,908.6 309.7,903.0 310.2,905.8 310.7,903.0 311.2,906.0 311.8,901.8 312.3,904.1 312.8,899.6 313.4,903.5 313.9,899.1 314.4,911.6 314.9,897.2 315.5,900.5 316.0,896.3 316.5,899.1 317.1,893.5 317.6,897.9 318.1,892.1 318.6,896.4 319.1,891.4 319.6,895.1 320.0,890.9 320.5,899.1 321.0,889.4 321.5,891.8 321.9,887.2 322.4,889.5 322.9,886.4 323.4,889.6 323.8,884.0 324.3,887.6 324.8,882.5 325.2,885.9 325.7,874.6 326.2,884.6 326.7,879.5 326.9,882.2 327.1,877.7 327.4,880.4 327.6,877.2 327.8,881.1 328.1,875.8 328.3,878.0 328.5,874.3 328.7,877.5 329.0,872.7 329.2,874.8 329.4,870.6 329.6,872.7 329.7,868.4 329.9,871.4 330.0,868.0 330.1,868.6 330.3,866.5 330.4,866.6 330.6,864.8 330.7,865.3 330.8,863.4 331.0,863.6 331.1,862.0 331.2,861.7 331.4,858.0 331.5,860.2 331.7,858.0 331.8,858.7 331.9,856.3 332.1,857.1 332.2,855.2 332.3,855.4 332.5,853.1 332.6,853.3 332.8,851.8 332.9,851.7 333.0,849.7 333.2,852.0 333.3,848.2 333.4,848.5 333.5,846.4 333.6,846.7 333.7,845.1 333.8,845.4 333.9,843.1 334.0,843.1 334.2,841.6 334.3,842.0 334.4,839.4 334.5,840.0 334.6,838.2 334.7,838.3 334.8,836.5 334.9,836.7 335.1,834.6 335.2,834.7 335.3,832.7 335.4,833.1 335.5,831.6 335.6,831.7 335.7,829.7 335.8,830.1 335.9,828.2 336.1,828.3 336.2,826.5 336.3,826.8 336.4,824.7 336.5,825.2 336.6,821.4 336.7,823.2 336.8,821.2 337.0,821.8 337.1,819.6 337.2,819.9 337.3,817.6 337.4,817.8 337.5,816.1 337.6,816.7 337.7,814.6 337.8,814.5 338.0,812.7 338.1,813.3 338.1,810.8 338.2,813.7 338.3,809.6 338.4,809.3 338.5,807.8 338.6,807.7 338.7,805.9 338.7,806.4 338.8,804.2 338.9,804.4 339.0,802.3 339.1,803.1 339.2,800.8 339.3,801.4 339.4,798.9 339.4,799.4 339.5,797.3 339.6,799.7 339.7,795.9 339.8,796.5 339.9,794.4 340.0,794.4 340.1,792.2 340.1,792.8 340.2,790.8 340.3,791.2 340.4,789.2 340.5,789.4 340.6,786.0 340.7,787.4 340.7,785.9 340.8,786.2 340.9,784.3 341.0,784.6 341.1,782.4 341.2,782.9 341.3,780.5 341.4,780.9 341.4,778.7 341.5,778.9 341.6,777.2 341.7,777.7 341.7,775.4 341.8,775.7 341.8,774.1 341.9,774.4 341.9,771.8 341.9,772.3 342.0,770.2 342.0,770.5 342.1,768.9 342.1,769.3 342.1,767.3 342.2,767.4 342.2,763.0 342.2,765.8 342.3,763.3 342.3,763.6 342.4,761.8 342.4,762.3 342.4,760.2 342.5,760.4 342.5,758.3 342.6,758.7 342.6,756.7 342.6,757.0 342.7,755.2 342.7,755.7 342.8,752.0 342.8,754.0 342.8,752.0 342.9,752.3 342.9,749.9 343.0,752.1 343.0,748.1 343.0,748.8 343.1,746.3 343.1,747.1 343.1,744.7 343.2,745.1 343.2,743.0 343.3,743.7 343.3,741.5 343.3,741.7 343.4,739.5 343.4,740.1 343.5,737.9 343.5,738.1 343.6,736.6 343.6,736.5 343.7,734.6 343.8,735.0 343.8,732.8 343.9,733.2 343.9,731.5 344.0,731.5 344.0,729.8 344.1,730.0 344.1,727.9 344.2,728.5 344.3,726.4 344.3,726.3 344.4,722.2 344.4,725.2 344.5,722.8 344.5,724.5 344.6,719.0 344.6,721.2 344.7,719.6 344.8,719.7 344.8,718.1 344.9,718.1 344.9,716.1 345.0,716.2 345.0,714.6 345.1,714.7 345.1,712.6 345.2,713.3 345.2,710.9 345.3,711.1 345.4,709.5 345.4,709.2 345.5,707.9 345.5,709.8 345.6,706.2 345.6,706.1 345.7,704.4 345.7,704.6 345.8,702.3 345.9,702.8 345.9,700.7 346.0,700.8 346.1,699.4 346.1,700.8 346.2,697.6 346.3,697.4 346.4,694.0 346.4,696.2 346.5,693.8 346.6,694.1 346.6,692.4 346.7,692.7 346.8,690.8 346.9,690.8 346.9,686.4 347.0,689.2 347.1,685.4 347.1,687.3 347.2,685.3 347.3,685.7 347.3,683.9 347.4,684.2 347.5,679.7 347.6,682.7 347.6,680.6 347.7,680.9 347.8,678.7 347.8,678.8 347.9,677.4 348.0,677.3 348.0,675.2 348.1,675.4 348.2,673.5 348.2,673.7 348.3,672.1 348.4,672.0 348.4,670.5 348.5,670.6 348.5,668.4 348.6,668.6 348.7,666.7 348.7,667.2 348.8,665.1 348.9,665.5 348.9,663.7 349.0,664.1 349.1,661.5 349.1,661.8 349.2,660.2 349.3,660.2 349.3,658.4 349.4,658.6 349.5,656.4 349.5,657.1 349.6,654.7 349.6,655.5 349.7,653.5 349.8,653.8 349.8,651.5 349.9,651.7 350.0,649.9 350.0,650.3 350.1,648.5 350.2,648.8 350.2,646.2 350.3,647.1 350.3,645.2 350.4,645.0 350.5,643.4 350.5,643.2 350.6,641.4" fill="none" stroke="#2656bf" stroke-width="0.7" stroke-linejoin="round" opacity="1.0"/>
<line x1="320.40" y1="644.70" x2="322.80" y2="644.70" stroke="#ffc060" stroke-width="0.8" />
<line x1="331.60" y1="644.70" x2="334.00" y2="644.70" stroke="#ffc060" stroke-width="0.8" />
<line x1="341.40" y1="644.70" x2="343.80" y2="644.70" stroke="#ffc060" stroke-width="0.8" />
<defs><filter id="bl" x="-50%" y="-50%" width="200%" height="200%"><feGaussianBlur stdDeviation="1.35"/></filter><filter id="bl2" x="-50%" y="-50%" width="200%" height="200%"><feGaussianBlur stdDeviation="0.9"/></filter></defs>
<text x="522.80" y="802.90" font-size="13.5" text-anchor="middle" fill="#1a1a1a" >polysomes</text>
<text x="589.00" y="802.90" font-size="13.5" text-anchor="middle" fill="#1a1a1a" >80S</text>
<text x="638.00" y="802.90" font-size="13.5" text-anchor="middle" fill="#1a1a1a" >RNPs</text>
<line x1="470.20" y1="806.40" x2="562.80" y2="806.40" stroke="#555" stroke-width="1" />
<line x1="567.80" y1="806.40" x2="608.40" y2="806.40" stroke="#555" stroke-width="1" />
<line x1="612.90" y1="806.40" x2="655.80" y2="806.40" stroke="#555" stroke-width="1" />
<text x="473.90" y="827.40" font-size="13" text-anchor="middle" fill="#1a1a1a" >1</text>
<text x="492.70" y="827.40" font-size="13" text-anchor="middle" fill="#1a1a1a" >2</text>
<text x="512.70" y="827.40" font-size="13" text-anchor="middle" fill="#1a1a1a" >3</text>
<text x="532.60" y="827.40" font-size="13" text-anchor="middle" fill="#1a1a1a" >4</text>
<text x="553.00" y="827.40" font-size="13" text-anchor="middle" fill="#1a1a1a" >5</text>
<text x="571.40" y="827.40" font-size="13" text-anchor="middle" fill="#1a1a1a" >6</text>
<text x="591.90" y="827.40" font-size="13" text-anchor="middle" fill="#1a1a1a" >7</text>
<text x="612.00" y="827.40" font-size="13" text-anchor="middle" fill="#1a1a1a" >8</text>
<text x="630.80" y="827.40" font-size="13" text-anchor="middle" fill="#1a1a1a" >9</text>
<text x="652.20" y="827.40" font-size="13" text-anchor="middle" fill="#1a1a1a" >10</text>
<rect x="464.80" y="834.20" width="200.20" height="34.90" fill="#e6e6e6" stroke="none" stroke-width="1"/>
<rect x="464.80" y="874.20" width="200.20" height="35.70" fill="#e6e6e6" stroke="none" stroke-width="1"/>
<rect x="464.80" y="914.40" width="200.20" height="35.10" fill="#e6e6e6" stroke="none" stroke-width="1"/>
<rect x="464.80" y="954.70" width="200.20" height="34.50" fill="#e6e6e6" stroke="none" stroke-width="1"/>
<g filter="url(#bl)">
<rect x="584.4" y="955" width="12" height="34" rx="5" fill="#111" opacity="0.3"/>
<rect x="633.5" y="835" width="4" height="12" rx="2" fill="#111" opacity="0.13"/>
<rect x="595" y="877" width="6" height="10" rx="3" fill="#111" opacity="0.2"/>
<rect x="465.6" y="850.2" width="15.0" height="6.6" rx="3.1" fill="#181818" opacity="0.65"/>
<rect x="485.2" y="849.3" width="15.0" height="8.0" rx="3.8" fill="#181818" opacity="0.70"/>
<rect x="504.2" y="847.4" width="16.5" height="10.2" rx="4.8" fill="#181818" opacity="0.84"/>
<rect x="523.9" y="847.4" width="15.8" height="10.5" rx="5.0" fill="#181818" opacity="0.78"/>
<rect x="543.6" y="846.6" width="17.3" height="10.7" rx="5.1" fill="#181818" opacity="0.71"/>
<rect x="563.4" y="846.6" width="17.5" height="8.8" rx="4.2" fill="#181818" opacity="0.66"/>
<rect x="583.2" y="842.6" width="17.6" height="16.6" rx="7.9" fill="#181818" opacity="0.86"/>
<rect x="602.4" y="842.6" width="19.5" height="15.2" rx="7.2" fill="#181818" opacity="0.90"/>
<rect x="622.1" y="844.2" width="18.1" height="14.2" rx="6.7" fill="#181818" opacity="0.89"/>
<rect x="644.7" y="848.9" width="12.7" height="6.4" rx="3.0" fill="#181818" opacity="0.55"/>
<rect x="476.5" y="888.6" width="5.8" height="8.8" rx="2.8" fill="#181818" opacity="0.92"/>
<rect x="487.1" y="890.1" width="16.0" height="8.4" rx="4.0" fill="#181818" opacity="0.97"/>
<rect x="507.6" y="889.8" width="12.2" height="9.2" rx="4.4" fill="#181818" opacity="0.90"/>
<rect x="522.0" y="884.5" width="21.0" height="18.3" rx="8.7" fill="#181818" opacity="1.00"/>
<rect x="547.1" y="889.8" width="11.4" height="6.9" rx="3.3" fill="#181818" opacity="0.44"/>
<rect x="558.6" y="882.6" width="21.5" height="19.0" rx="9.0" fill="#181818" opacity="0.99"/>
<rect x="580.1" y="883.4" width="21.3" height="18.2" rx="8.6" fill="#181818" opacity="0.99"/>
<rect x="603.7" y="889.7" width="12.7" height="5.6" rx="2.7" fill="#181818" opacity="0.63"/>
<rect x="621.9" y="887.4" width="11.5" height="13.4" rx="5.5" fill="#181818" opacity="0.63"/>
<rect x="628.1" y="887.4" width="11.9" height="13.4" rx="5.7" fill="#181818" opacity="0.94"/>
<rect x="645.5" y="892.1" width="11.1" height="7.1" rx="3.4" fill="#181818" opacity="0.78"/>
<rect x="467.6" y="932.9" width="6.6" height="5.5" rx="2.6" fill="#181818" opacity="0.35"/>
<rect x="482.1" y="934.6" width="6.3" height="2.8" rx="1.3" fill="#181818" opacity="0.13"/>
<rect x="496.0" y="931.3" width="15.3" height="7.1" rx="3.4" fill="#181818" opacity="0.97"/>
<rect x="516.8" y="931.3" width="15.0" height="6.3" rx="3.0" fill="#181818" opacity="0.83"/>
<rect x="536.5" y="929.7" width="15.8" height="7.1" rx="3.4" fill="#181818" opacity="0.92"/>
<rect x="560.4" y="930.6" width="9.5" height="4.8" rx="2.3" fill="#181818" opacity="0.18"/>
<rect x="576.6" y="926.6" width="19.8" height="9.6" rx="4.6" fill="#181818" opacity="0.93"/>
<rect x="597.4" y="926.6" width="19.0" height="10.2" rx="4.8" fill="#181818" opacity="0.94"/>
<rect x="617.1" y="926.6" width="19.0" height="10.7" rx="5.1" fill="#181818" opacity="0.92"/>
<rect x="640.0" y="929.7" width="20.5" height="5.6" rx="2.7" fill="#181818" opacity="0.63"/>
<rect x="505.7" y="973.6" width="11.9" height="4.8" rx="2.3" fill="#181818" opacity="0.18"/>
<rect x="524.7" y="971.3" width="12.6" height="6.3" rx="3.0" fill="#181818" opacity="0.45"/>
<rect x="542.0" y="968.2" width="15.0" height="10.2" rx="4.8" fill="#181818" opacity="0.91"/>
<rect x="560.8" y="967.7" width="19.0" height="9.3" rx="4.4" fill="#181818" opacity="0.89"/>
<rect x="580.0" y="962.7" width="20.9" height="18.9" rx="9.0" fill="#181818" opacity="0.98"/>
<rect x="602.1" y="963.7" width="20.0" height="14.9" rx="7.1" fill="#181818" opacity="0.91"/>
<rect x="623.3" y="965.7" width="17.9" height="11.3" rx="5.4" fill="#181818" opacity="0.91"/>
<rect x="645.4" y="967.7" width="19.0" height="5.2" rx="2.5" fill="#181818" opacity="0.54"/>
</g>
<text x="423.60" y="859.00" font-size="13.5" text-anchor="middle" fill="#1a1a1a" >untreated</text>
<text x="423.60" y="889.60" font-size="13.5" text-anchor="middle" fill="#1a1a1a" >6hrs</text>
<text x="423.60" y="903.80" font-size="13.5" text-anchor="middle" fill="#1a1a1a" >Sempervirine</text>
<text x="423.60" y="927.90" font-size="13.5" text-anchor="middle" fill="#1a1a1a" >24hrs</text>
<text x="423.60" y="942.60" font-size="13.5" text-anchor="middle" fill="#1a1a1a" >Sempervirine</text>
<text x="423.60" y="974.60" font-size="13.5" text-anchor="middle" fill="#1a1a1a" >Puromycin</text>
<line x1="669.60" y1="857.60" x2="669.60" y2="966.60" stroke="#444" stroke-width="1" />
<text x="675.20" y="874.00" font-size="12.5" text-anchor="start" fill="#1a1a1a" transform="rotate(90 675.20 874.00)" >α-S6 (32kDa)</text>
</svg>
</body></html>
